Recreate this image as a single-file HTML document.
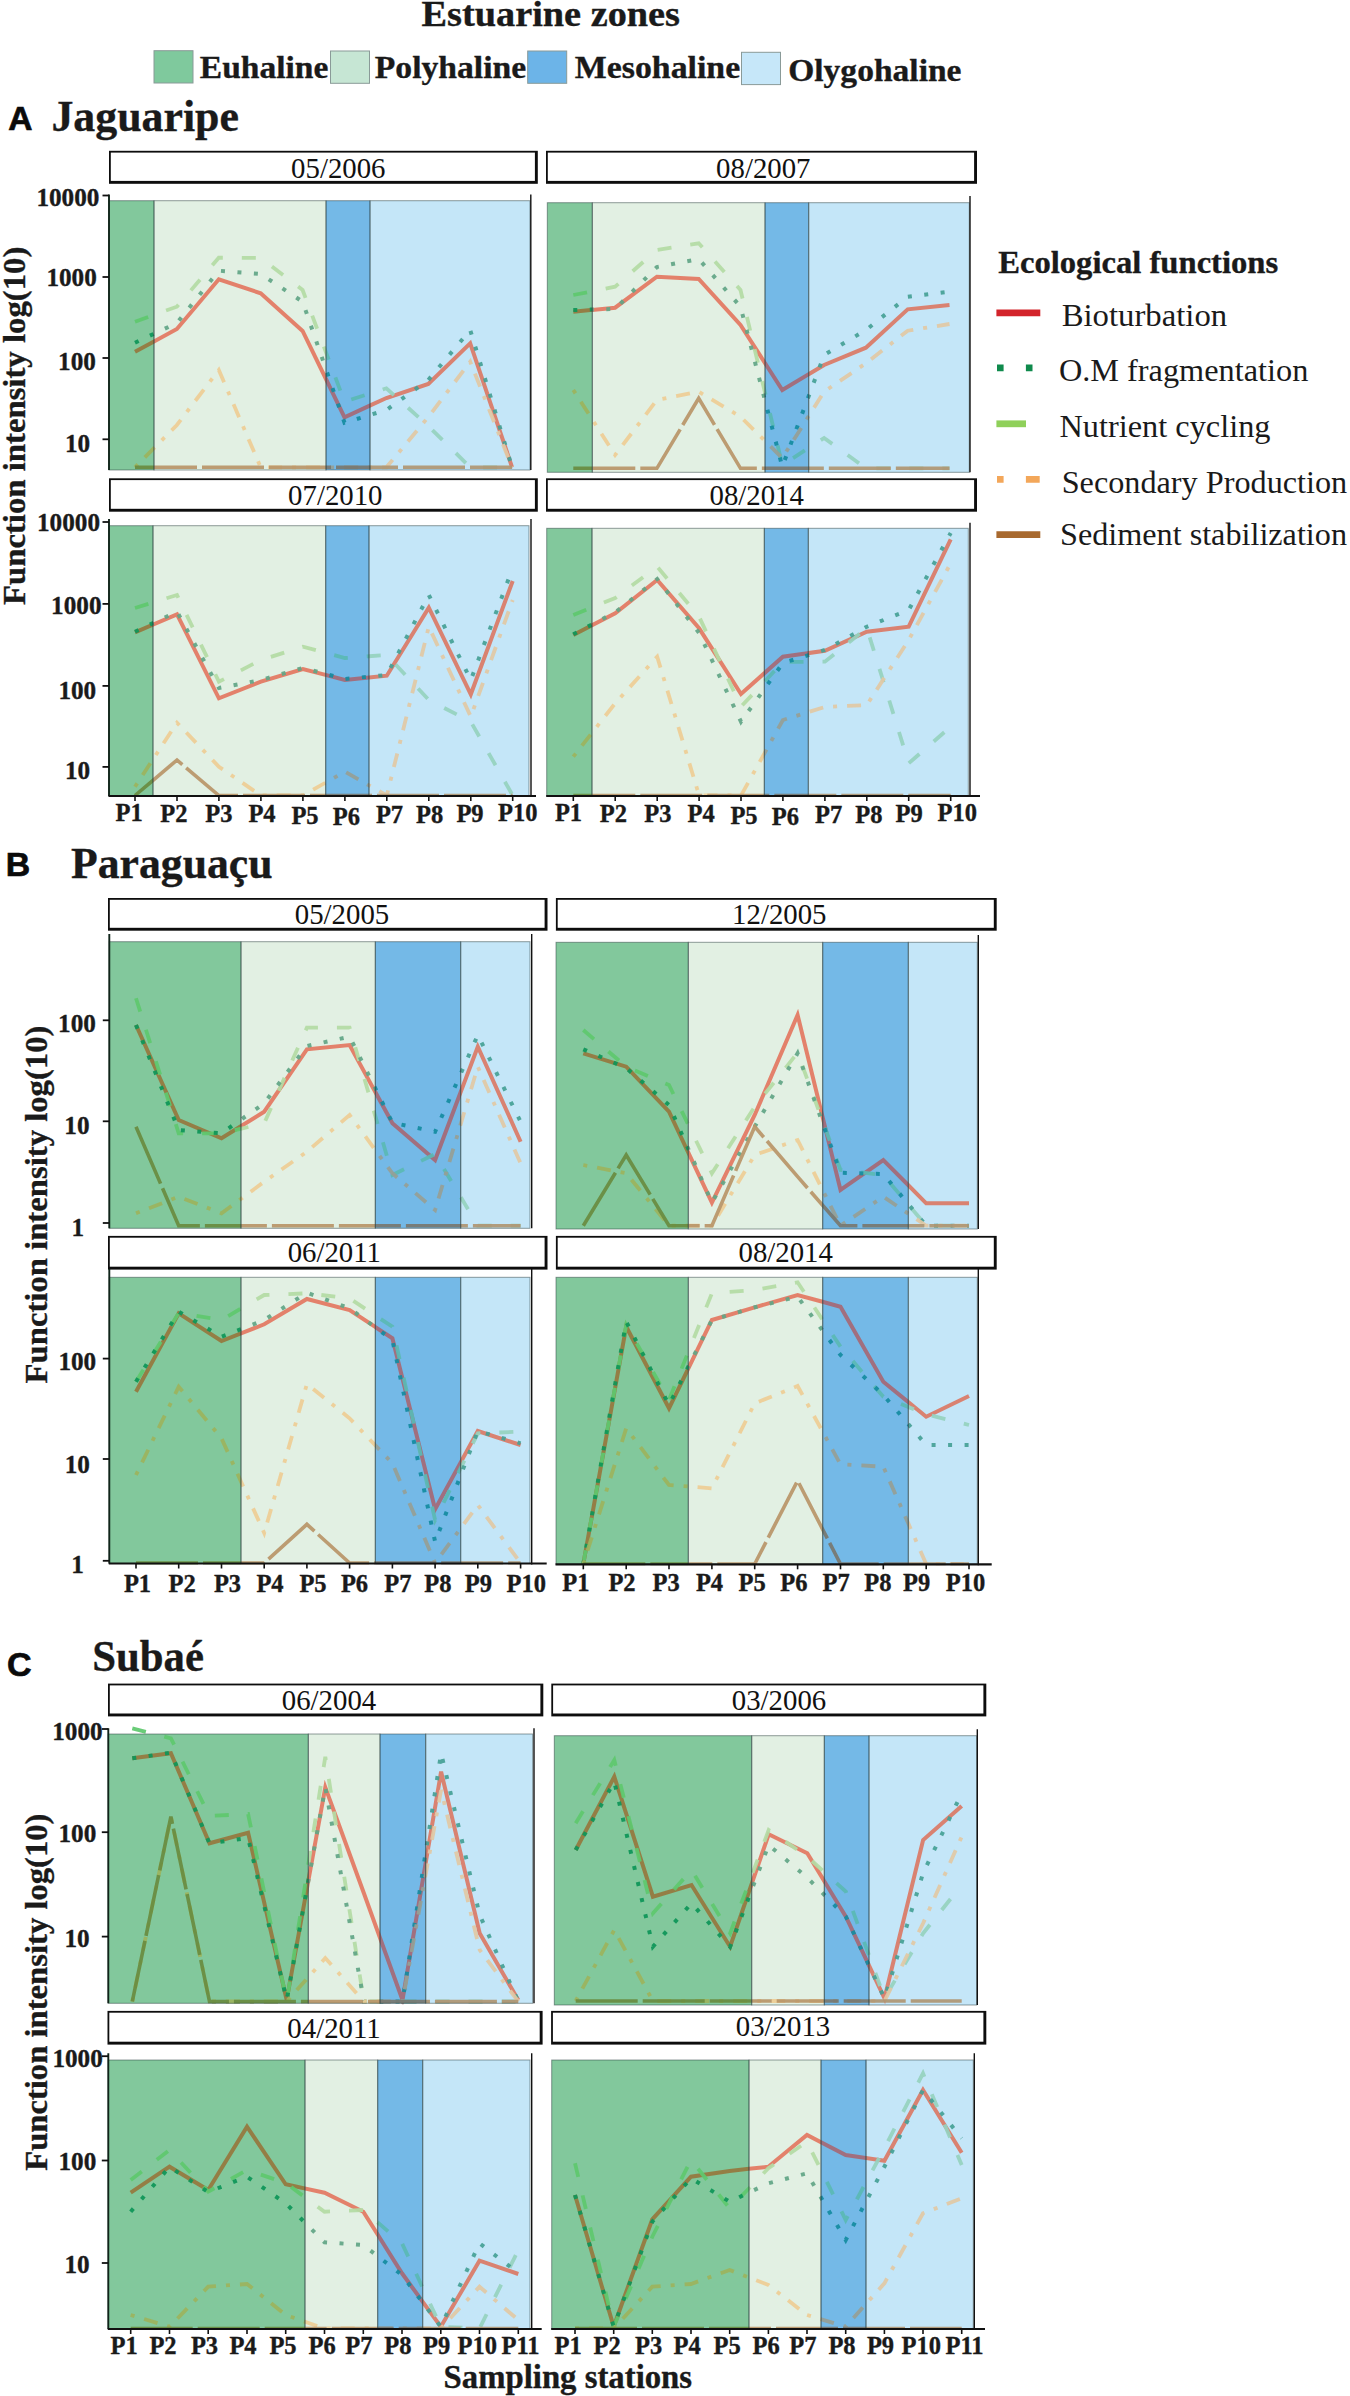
<!DOCTYPE html>
<html><head><meta charset="utf-8"><title>Estuarine zones – ecological functions</title>
<style>html,body{margin:0;padding:0;background:#fff}svg{display:block}</style></head>
<body>
<svg width="1350" height="2396" viewBox="0 0 1350 2396">
<rect width="1350" height="2396" fill="#fff"/>
<text x="421.5" y="25.9" font-size="35.5" font-family='"Liberation Serif", serif' fill="#1a1a1a" font-weight="bold" textLength="258.5" lengthAdjust="spacingAndGlyphs" stroke="#1a1a1a" stroke-width="0.35">Estuarine zones</text>
<rect x="154" y="50.7" width="39" height="32.3" fill="#7fc99d" stroke="#8a9a98" stroke-width="1"/>
<text x="199.8" y="78.2" font-size="32" font-family='"Liberation Serif", serif' fill="#1a1a1a" font-weight="bold" textLength="128.6" lengthAdjust="spacingAndGlyphs" stroke="#1a1a1a" stroke-width="0.35">Euhaline</text>
<rect x="330.5" y="51" width="39" height="32.3" fill="#c6e6d4" stroke="#8a9a98" stroke-width="1"/>
<text x="374.8" y="78.2" font-size="32" font-family='"Liberation Serif", serif' fill="#1a1a1a" font-weight="bold" textLength="151.4" lengthAdjust="spacingAndGlyphs" stroke="#1a1a1a" stroke-width="0.35">Polyhaline</text>
<rect x="527.7" y="51" width="39" height="32.3" fill="#6cb4e8" stroke="#8a9a98" stroke-width="1"/>
<text x="574.8" y="77.5" font-size="32" font-family='"Liberation Serif", serif' fill="#1a1a1a" font-weight="bold" textLength="165.4" lengthAdjust="spacingAndGlyphs" stroke="#1a1a1a" stroke-width="0.35">Mesohaline</text>
<rect x="741.5" y="52.3" width="39" height="32.3" fill="#c6e7f9" stroke="#8a9a98" stroke-width="1"/>
<text x="788.2" y="81.0" font-size="32" font-family='"Liberation Serif", serif' fill="#1a1a1a" font-weight="bold" textLength="173.3" lengthAdjust="spacingAndGlyphs" stroke="#1a1a1a" stroke-width="0.35">Olygohaline</text>
<text x="8.2" y="129.6" font-size="33.5" font-family='"Liberation Sans", sans-serif' fill="#0a0a0a" font-weight="bold" stroke="#0a0a0a" stroke-width="0.7">A</text>
<text x="51.4" y="131.0" font-size="43.5" font-family='"Liberation Serif", serif' fill="#1a1a1a" font-weight="bold" textLength="187.5" lengthAdjust="spacingAndGlyphs" stroke="#1a1a1a" stroke-width="0.35">Jaguaripe</text>
<text x="5.8" y="876.2" font-size="33.8" font-family='"Liberation Sans", sans-serif' fill="#0a0a0a" font-weight="bold" stroke="#0a0a0a" stroke-width="0.7">B</text>
<text x="71.0" y="877.8" font-size="43.5" font-family='"Liberation Serif", serif' fill="#1a1a1a" font-weight="bold" textLength="201.5" lengthAdjust="spacingAndGlyphs" stroke="#1a1a1a" stroke-width="0.35">Paraguaçu</text>
<text x="7.0" y="1676.0" font-size="34" font-family='"Liberation Sans", sans-serif' fill="#0a0a0a" font-weight="bold" stroke="#0a0a0a" stroke-width="0.7">C</text>
<text x="92.2" y="1671.2" font-size="43.5" font-family='"Liberation Serif", serif' fill="#1a1a1a" font-weight="bold" textLength="111.8" lengthAdjust="spacingAndGlyphs" stroke="#1a1a1a" stroke-width="0.35">Subaé</text>
<rect x="109.0" y="150.8" width="428.8" height="33.0" fill="#0d0d0d"/>
<rect x="110.8" y="152.6" width="424.1" height="28.3" fill="#fff"/>
<text x="338.3" y="177.6" font-size="28.8" font-family='"Liberation Serif", serif' fill="#111" text-anchor="middle">05/2006</text>
<rect x="546.0" y="150.8" width="431.0" height="33.0" fill="#0d0d0d"/>
<rect x="547.8" y="152.6" width="426.3" height="28.3" fill="#fff"/>
<text x="763.3" y="177.6" font-size="28.8" font-family='"Liberation Serif", serif' fill="#111" text-anchor="middle">08/2007</text>
<rect x="109.0" y="478.3" width="428.8" height="33.4" fill="#0d0d0d"/>
<rect x="110.8" y="480.1" width="424.1" height="28.7" fill="#fff"/>
<text x="335.3" y="505.0" font-size="28.8" font-family='"Liberation Serif", serif' fill="#111" text-anchor="middle">07/2010</text>
<rect x="546.0" y="478.3" width="431.0" height="33.4" fill="#0d0d0d"/>
<rect x="547.8" y="480.1" width="426.3" height="28.7" fill="#fff"/>
<text x="756.7" y="505.0" font-size="28.8" font-family='"Liberation Serif", serif' fill="#111" text-anchor="middle">08/2014</text>
<rect x="108.0" y="898.0" width="439.5" height="32.7" fill="#0d0d0d"/>
<rect x="109.8" y="899.8" width="434.8" height="28.0" fill="#fff"/>
<text x="342.0" y="924.0" font-size="28.8" font-family='"Liberation Serif", serif' fill="#111" text-anchor="middle">05/2005</text>
<rect x="555.9" y="898.0" width="440.8" height="32.7" fill="#0d0d0d"/>
<rect x="557.7" y="899.8" width="436.1" height="28.0" fill="#fff"/>
<text x="779.3" y="924.0" font-size="28.8" font-family='"Liberation Serif", serif' fill="#111" text-anchor="middle">12/2005</text>
<rect x="108.0" y="1235.9" width="439.5" height="33.7" fill="#0d0d0d"/>
<rect x="109.8" y="1237.7" width="434.8" height="29.0" fill="#fff"/>
<text x="334.3" y="1262.3" font-size="28.8" font-family='"Liberation Serif", serif' fill="#111" text-anchor="middle">06/2011</text>
<rect x="555.9" y="1235.9" width="440.8" height="33.7" fill="#0d0d0d"/>
<rect x="557.7" y="1237.7" width="436.1" height="29.0" fill="#fff"/>
<text x="785.7" y="1262.3" font-size="28.8" font-family='"Liberation Serif", serif' fill="#111" text-anchor="middle">08/2014</text>
<rect x="108.0" y="1683.6" width="435.3" height="32.8" fill="#0d0d0d"/>
<rect x="109.8" y="1685.4" width="430.6" height="28.1" fill="#fff"/>
<text x="329.0" y="1709.7" font-size="28.8" font-family='"Liberation Serif", serif' fill="#111" text-anchor="middle">06/2004</text>
<rect x="551.3" y="1683.6" width="435.0" height="32.8" fill="#0d0d0d"/>
<rect x="553.1" y="1685.4" width="430.3" height="28.1" fill="#fff"/>
<text x="779.0" y="1709.7" font-size="28.8" font-family='"Liberation Serif", serif' fill="#111" text-anchor="middle">03/2006</text>
<rect x="107.5" y="2010.9" width="435.1" height="33.7" fill="#0d0d0d"/>
<rect x="109.3" y="2012.7" width="430.4" height="29.0" fill="#fff"/>
<text x="334.0" y="2038.0" font-size="28.8" font-family='"Liberation Serif", serif' fill="#111" text-anchor="middle">04/2011</text>
<rect x="551.1" y="2010.9" width="435.2" height="33.7" fill="#0d0d0d"/>
<rect x="552.9" y="2012.7" width="430.5" height="29.0" fill="#fff"/>
<text x="783.0" y="2036.0" font-size="28.8" font-family='"Liberation Serif", serif' fill="#111" text-anchor="middle">03/2013</text>
<rect x="109.0" y="200.7" width="45.0" height="269.3" fill="#82c89c"/>
<rect x="154.0" y="200.7" width="172.0" height="269.3" fill="#e2f0e3"/>
<rect x="326.0" y="200.7" width="44.0" height="269.3" fill="#74b9e7"/>
<rect x="370.0" y="200.7" width="160.0" height="269.3" fill="#c4e6f8"/>
<defs>
<clipPath id="c1_0"><rect x="109.0" y="190.7" width="45.0" height="280.3"/></clipPath>
<clipPath id="c1_1"><rect x="154.0" y="190.7" width="172.0" height="280.3"/></clipPath>
<clipPath id="c1_2"><rect x="326.0" y="190.7" width="44.0" height="280.3"/></clipPath>
<clipPath id="c1_3"><rect x="370.0" y="190.7" width="160.0" height="280.3"/></clipPath>
<polyline id="l1bio" points="135.0,351.7 176.9,329.0 218.8,279.3 260.7,293.3 302.6,331.0 344.5,417.3 386.4,398.0 428.3,384.0 470.2,343.3 512.1,467.3" fill="none" stroke-width="4" stroke-linejoin="miter"/>
<polyline id="l1nut" points="135.0,321.7 176.9,306.7 218.8,257.7 260.7,258.0 302.6,290.0 344.5,401.7 386.4,388.3 428.3,426.0 470.2,467.3 512.1,467.3" fill="none" stroke-width="3.8" stroke-linejoin="miter" stroke-dasharray="14 19"/>
<polyline id="l1om" points="135.0,342.7 176.9,323.0 218.8,270.7 260.7,274.0 302.6,301.7 344.5,422.7 386.4,410.0 428.3,380.0 470.2,330.0 512.1,467.3" fill="none" stroke-width="4" stroke-linejoin="miter" stroke-dasharray="4 12.5"/>
<polyline id="l1sec" points="135.0,467.3 176.9,425.0 218.8,370.0 260.7,467.3 302.6,467.3 344.5,467.3 386.4,467.3 428.3,417.0 470.2,361.7 512.1,467.3" fill="none" stroke-width="3.8" stroke-linejoin="miter" stroke-dasharray="4 10 14 10"/>
<polyline id="l1sed" points="135.0,467.3 176.9,467.3 218.8,467.3 260.7,467.3 302.6,467.3 344.5,467.3 386.4,467.3 428.3,467.3 470.2,467.3 512.1,467.3" fill="none" stroke-width="3.6" stroke-linejoin="miter" stroke-dasharray="62 5"/>
</defs>
<g clip-path="url(#c1_0)" stroke-opacity="0.93">
<use href="#l1bio" stroke="#96783e"/>
<use href="#l1nut" stroke="#5fc86e"/>
<use href="#l1om" stroke="#0e9658"/>
<use href="#l1sec" stroke="#9cb45e"/>
<use href="#l1sed" stroke="#698c41"/>
</g>
<g clip-path="url(#c1_1)" stroke-opacity="0.93">
<use href="#l1bio" stroke="#e37962"/>
<use href="#l1nut" stroke="#b4dca5"/>
<use href="#l1om" stroke="#62a686"/>
<use href="#l1sec" stroke="#eecd96"/>
<use href="#l1sed" stroke="#b99669"/>
</g>
<g clip-path="url(#c1_2)" stroke-opacity="0.93">
<use href="#l1bio" stroke="#a56976"/>
<use href="#l1nut" stroke="#5ab9b4"/>
<use href="#l1om" stroke="#148ca0"/>
<use href="#l1sec" stroke="#969f96"/>
<use href="#l1sed" stroke="#787870"/>
</g>
<g clip-path="url(#c1_3)" stroke-opacity="0.93">
<use href="#l1bio" stroke="#da7a66"/>
<use href="#l1nut" stroke="#96d2be"/>
<use href="#l1om" stroke="#46a096"/>
<use href="#l1sec" stroke="#e1c8a5"/>
<use href="#l1sed" stroke="#af9673"/>
</g>
<rect x="109.0" y="200.7" width="45.0" height="269.3" fill="none" stroke="#283c3c" stroke-opacity="0.5" stroke-width="1"/>
<rect x="154.0" y="200.7" width="172.0" height="269.3" fill="none" stroke="#283c3c" stroke-opacity="0.5" stroke-width="1"/>
<rect x="326.0" y="200.7" width="44.0" height="269.3" fill="none" stroke="#283c3c" stroke-opacity="0.5" stroke-width="1"/>
<rect x="370.0" y="200.7" width="160.0" height="269.3" fill="none" stroke="#283c3c" stroke-opacity="0.5" stroke-width="1"/>
<line x1="530.8" y1="194.5" x2="530.8" y2="470.0" stroke="#111" stroke-width="1.4"/>
<line x1="109.0" y1="194.5" x2="109.0" y2="470.0" stroke="#10241a" stroke-width="1.9"/>
<line x1="102.5" y1="195.5" x2="109.0" y2="195.5" stroke="#111" stroke-width="1.8"/>
<text x="67.9" y="205.7" font-size="25.2" font-family='"Liberation Serif", serif' fill="#1a1a1a" font-weight="bold" text-anchor="middle" stroke="#1a1a1a" stroke-width="0.35">10000</text>
<line x1="102.5" y1="277.0" x2="109.0" y2="277.0" stroke="#111" stroke-width="1.8"/>
<text x="71.6" y="286.4" font-size="25.2" font-family='"Liberation Serif", serif' fill="#1a1a1a" font-weight="bold" text-anchor="middle" stroke="#1a1a1a" stroke-width="0.35">1000</text>
<line x1="102.5" y1="358.0" x2="109.0" y2="358.0" stroke="#111" stroke-width="1.8"/>
<text x="77.0" y="369.7" font-size="25.2" font-family='"Liberation Serif", serif' fill="#1a1a1a" font-weight="bold" text-anchor="middle" stroke="#1a1a1a" stroke-width="0.35">100</text>
<line x1="102.5" y1="439.3" x2="109.0" y2="439.3" stroke="#111" stroke-width="1.8"/>
<text x="77.6" y="452.3" font-size="25.2" font-family='"Liberation Serif", serif' fill="#1a1a1a" font-weight="bold" text-anchor="middle" stroke="#1a1a1a" stroke-width="0.35">10</text>
<rect x="547.3" y="202.7" width="45.0" height="269.6" fill="#82c89c"/>
<rect x="592.3" y="202.7" width="172.7" height="269.6" fill="#e2f0e3"/>
<rect x="765.0" y="202.7" width="43.7" height="269.6" fill="#74b9e7"/>
<rect x="808.7" y="202.7" width="160.6" height="269.6" fill="#c4e6f8"/>
<defs>
<clipPath id="c2_0"><rect x="547.3" y="192.7" width="45.0" height="280.6"/></clipPath>
<clipPath id="c2_1"><rect x="592.3" y="192.7" width="172.7" height="280.6"/></clipPath>
<clipPath id="c2_2"><rect x="765.0" y="192.7" width="43.7" height="280.6"/></clipPath>
<clipPath id="c2_3"><rect x="808.7" y="192.7" width="160.6" height="280.6"/></clipPath>
<polyline id="l2bio" points="573.3,311.7 615.1,307.7 656.9,276.7 698.7,279.0 740.5,325.0 782.3,390.0 824.1,365.0 865.9,347.7 907.7,309.3 949.5,305.0" fill="none" stroke-width="4" stroke-linejoin="miter"/>
<polyline id="l2nut" points="573.3,295.0 615.1,286.7 656.9,250.0 698.7,243.3 740.5,290.0 782.3,465.0 824.1,438.0 865.9,468.3 907.7,468.3 949.5,468.3" fill="none" stroke-width="3.8" stroke-linejoin="miter" stroke-dasharray="14 19"/>
<polyline id="l2om" points="573.3,310.0 615.1,309.0 656.9,267.0 698.7,259.0 740.5,306.7 782.3,466.7 824.1,355.0 865.9,330.0 907.7,296.7 949.5,291.7" fill="none" stroke-width="4" stroke-linejoin="miter" stroke-dasharray="4 12.5"/>
<polyline id="l2sec" points="573.3,390.0 615.1,455.0 656.9,400.0 698.7,391.7 740.5,416.7 782.3,458.0 824.1,391.7 865.9,363.3 907.7,330.7 949.5,324.0" fill="none" stroke-width="3.8" stroke-linejoin="miter" stroke-dasharray="4 10 14 10"/>
<polyline id="l2sed" points="573.3,468.3 615.1,468.3 656.9,468.3 698.7,398.3 740.5,468.3 782.3,468.3 824.1,468.3 865.9,468.3 907.7,468.3 949.5,468.3" fill="none" stroke-width="3.6" stroke-linejoin="miter" stroke-dasharray="62 5"/>
</defs>
<g clip-path="url(#c2_0)" stroke-opacity="0.93">
<use href="#l2bio" stroke="#96783e"/>
<use href="#l2nut" stroke="#5fc86e"/>
<use href="#l2om" stroke="#0e9658"/>
<use href="#l2sec" stroke="#9cb45e"/>
<use href="#l2sed" stroke="#698c41"/>
</g>
<g clip-path="url(#c2_1)" stroke-opacity="0.93">
<use href="#l2bio" stroke="#e37962"/>
<use href="#l2nut" stroke="#b4dca5"/>
<use href="#l2om" stroke="#62a686"/>
<use href="#l2sec" stroke="#eecd96"/>
<use href="#l2sed" stroke="#b99669"/>
</g>
<g clip-path="url(#c2_2)" stroke-opacity="0.93">
<use href="#l2bio" stroke="#a56976"/>
<use href="#l2nut" stroke="#5ab9b4"/>
<use href="#l2om" stroke="#148ca0"/>
<use href="#l2sec" stroke="#969f96"/>
<use href="#l2sed" stroke="#787870"/>
</g>
<g clip-path="url(#c2_3)" stroke-opacity="0.93">
<use href="#l2bio" stroke="#da7a66"/>
<use href="#l2nut" stroke="#96d2be"/>
<use href="#l2om" stroke="#46a096"/>
<use href="#l2sec" stroke="#e1c8a5"/>
<use href="#l2sed" stroke="#af9673"/>
</g>
<rect x="547.3" y="202.7" width="45.0" height="269.6" fill="none" stroke="#283c3c" stroke-opacity="0.5" stroke-width="1"/>
<rect x="592.3" y="202.7" width="172.7" height="269.6" fill="none" stroke="#283c3c" stroke-opacity="0.5" stroke-width="1"/>
<rect x="765.0" y="202.7" width="43.7" height="269.6" fill="none" stroke="#283c3c" stroke-opacity="0.5" stroke-width="1"/>
<rect x="808.7" y="202.7" width="160.6" height="269.6" fill="none" stroke="#283c3c" stroke-opacity="0.5" stroke-width="1"/>
<line x1="970.0" y1="196.0" x2="970.0" y2="472.3" stroke="#111" stroke-width="1.4"/>
<rect x="109.0" y="525.7" width="44.0" height="270.3" fill="#82c89c"/>
<rect x="153.0" y="525.7" width="172.7" height="270.3" fill="#e2f0e3"/>
<rect x="325.7" y="525.7" width="43.3" height="270.3" fill="#74b9e7"/>
<rect x="369.0" y="525.7" width="160.0" height="270.3" fill="#c4e6f8"/>
<defs>
<clipPath id="c3_0"><rect x="109.0" y="515.7" width="44.0" height="281.3"/></clipPath>
<clipPath id="c3_1"><rect x="153.0" y="515.7" width="172.7" height="281.3"/></clipPath>
<clipPath id="c3_2"><rect x="325.7" y="515.7" width="43.3" height="281.3"/></clipPath>
<clipPath id="c3_3"><rect x="369.0" y="515.7" width="160.0" height="281.3"/></clipPath>
<polyline id="l3bio" points="135.0,632.3 177.0,614.3 218.9,698.3 260.9,681.7 302.9,669.0 344.9,680.0 386.8,675.7 428.8,607.7 470.8,694.3 512.7,581.0" fill="none" stroke-width="4" stroke-linejoin="miter"/>
<polyline id="l3nut" points="135.0,608.0 177.0,595.0 218.9,681.7 260.9,660.0 302.9,646.7 344.9,658.0 386.8,655.0 428.8,700.0 470.8,721.7 512.7,795.5" fill="none" stroke-width="3.8" stroke-linejoin="miter" stroke-dasharray="14 19"/>
<polyline id="l3om" points="135.0,631.7 177.0,611.7 218.9,688.0 260.9,680.0 302.9,668.0 344.9,679.0 386.8,675.0 428.8,595.0 470.8,680.0 512.7,568.0" fill="none" stroke-width="4" stroke-linejoin="miter" stroke-dasharray="4 12.5"/>
<polyline id="l3sec" points="135.0,786.7 177.0,722.7 218.9,766.7 260.9,795.5 302.9,795.5 344.9,771.7 386.8,795.5 428.8,626.7 470.8,716.7 512.7,600.0" fill="none" stroke-width="3.8" stroke-linejoin="miter" stroke-dasharray="4 10 14 10"/>
<polyline id="l3sed" points="135.0,795.5 177.0,760.0 218.9,795.5 260.9,795.5 302.9,795.5 344.9,795.5 386.8,795.5 428.8,795.5 470.8,795.5 512.7,795.5" fill="none" stroke-width="3.6" stroke-linejoin="miter" stroke-dasharray="62 5"/>
</defs>
<g clip-path="url(#c3_0)" stroke-opacity="0.93">
<use href="#l3bio" stroke="#96783e"/>
<use href="#l3nut" stroke="#5fc86e"/>
<use href="#l3om" stroke="#0e9658"/>
<use href="#l3sec" stroke="#9cb45e"/>
<use href="#l3sed" stroke="#698c41"/>
</g>
<g clip-path="url(#c3_1)" stroke-opacity="0.93">
<use href="#l3bio" stroke="#e37962"/>
<use href="#l3nut" stroke="#b4dca5"/>
<use href="#l3om" stroke="#62a686"/>
<use href="#l3sec" stroke="#eecd96"/>
<use href="#l3sed" stroke="#b99669"/>
</g>
<g clip-path="url(#c3_2)" stroke-opacity="0.93">
<use href="#l3bio" stroke="#a56976"/>
<use href="#l3nut" stroke="#5ab9b4"/>
<use href="#l3om" stroke="#148ca0"/>
<use href="#l3sec" stroke="#969f96"/>
<use href="#l3sed" stroke="#787870"/>
</g>
<g clip-path="url(#c3_3)" stroke-opacity="0.93">
<use href="#l3bio" stroke="#da7a66"/>
<use href="#l3nut" stroke="#96d2be"/>
<use href="#l3om" stroke="#46a096"/>
<use href="#l3sec" stroke="#e1c8a5"/>
<use href="#l3sed" stroke="#af9673"/>
</g>
<rect x="109.0" y="525.7" width="44.0" height="270.3" fill="none" stroke="#283c3c" stroke-opacity="0.5" stroke-width="1"/>
<rect x="153.0" y="525.7" width="172.7" height="270.3" fill="none" stroke="#283c3c" stroke-opacity="0.5" stroke-width="1"/>
<rect x="325.7" y="525.7" width="43.3" height="270.3" fill="none" stroke="#283c3c" stroke-opacity="0.5" stroke-width="1"/>
<rect x="369.0" y="525.7" width="160.0" height="270.3" fill="none" stroke="#283c3c" stroke-opacity="0.5" stroke-width="1"/>
<line x1="531.0" y1="519.0" x2="531.0" y2="797.0" stroke="#111" stroke-width="1.4"/>
<line x1="109.0" y1="519.0" x2="109.0" y2="796.0" stroke="#10241a" stroke-width="1.9"/>
<line x1="102.5" y1="522.0" x2="109.0" y2="522.0" stroke="#111" stroke-width="1.8"/>
<text x="68.5" y="531.3" font-size="25.2" font-family='"Liberation Serif", serif' fill="#1a1a1a" font-weight="bold" text-anchor="middle" stroke="#1a1a1a" stroke-width="0.35">10000</text>
<line x1="102.5" y1="603.9" x2="109.0" y2="603.9" stroke="#111" stroke-width="1.8"/>
<text x="76.3" y="613.9" font-size="25.2" font-family='"Liberation Serif", serif' fill="#1a1a1a" font-weight="bold" text-anchor="middle" stroke="#1a1a1a" stroke-width="0.35">1000</text>
<line x1="102.5" y1="685.9" x2="109.0" y2="685.9" stroke="#111" stroke-width="1.8"/>
<text x="77.3" y="699.1" font-size="25.2" font-family='"Liberation Serif", serif' fill="#1a1a1a" font-weight="bold" text-anchor="middle" stroke="#1a1a1a" stroke-width="0.35">100</text>
<line x1="102.5" y1="766.9" x2="109.0" y2="766.9" stroke="#111" stroke-width="1.8"/>
<text x="77.6" y="779.2" font-size="25.2" font-family='"Liberation Serif", serif' fill="#1a1a1a" font-weight="bold" text-anchor="middle" stroke="#1a1a1a" stroke-width="0.35">10</text>
<line x1="108.5" y1="796.0" x2="536.0" y2="796.0" stroke="#111" stroke-width="2.2"/>
<line x1="135.0" y1="796.0" x2="135.0" y2="801.0" stroke="#111" stroke-width="1.6"/>
<line x1="177.0" y1="796.0" x2="177.0" y2="801.0" stroke="#111" stroke-width="1.6"/>
<line x1="218.9" y1="796.0" x2="218.9" y2="801.0" stroke="#111" stroke-width="1.6"/>
<line x1="260.9" y1="796.0" x2="260.9" y2="801.0" stroke="#111" stroke-width="1.6"/>
<line x1="302.9" y1="796.0" x2="302.9" y2="801.0" stroke="#111" stroke-width="1.6"/>
<line x1="344.9" y1="796.0" x2="344.9" y2="801.0" stroke="#111" stroke-width="1.6"/>
<line x1="386.8" y1="796.0" x2="386.8" y2="801.0" stroke="#111" stroke-width="1.6"/>
<line x1="428.8" y1="796.0" x2="428.8" y2="801.0" stroke="#111" stroke-width="1.6"/>
<line x1="470.8" y1="796.0" x2="470.8" y2="801.0" stroke="#111" stroke-width="1.6"/>
<line x1="512.7" y1="796.0" x2="512.7" y2="801.0" stroke="#111" stroke-width="1.6"/>
<text x="129.2" y="821.0" font-size="24.5" font-family='"Liberation Serif", serif' fill="#1a1a1a" font-weight="bold" text-anchor="middle" stroke="#1a1a1a" stroke-width="0.35">P1</text>
<text x="173.8" y="822.3" font-size="24.5" font-family='"Liberation Serif", serif' fill="#1a1a1a" font-weight="bold" text-anchor="middle" stroke="#1a1a1a" stroke-width="0.35">P2</text>
<text x="218.8" y="821.7" font-size="24.5" font-family='"Liberation Serif", serif' fill="#1a1a1a" font-weight="bold" text-anchor="middle" stroke="#1a1a1a" stroke-width="0.35">P3</text>
<text x="262.0" y="821.7" font-size="24.5" font-family='"Liberation Serif", serif' fill="#1a1a1a" font-weight="bold" text-anchor="middle" stroke="#1a1a1a" stroke-width="0.35">P4</text>
<text x="305.0" y="824.3" font-size="24.5" font-family='"Liberation Serif", serif' fill="#1a1a1a" font-weight="bold" text-anchor="middle" stroke="#1a1a1a" stroke-width="0.35">P5</text>
<text x="346.3" y="825.0" font-size="24.5" font-family='"Liberation Serif", serif' fill="#1a1a1a" font-weight="bold" text-anchor="middle" stroke="#1a1a1a" stroke-width="0.35">P6</text>
<text x="389.5" y="823.3" font-size="24.5" font-family='"Liberation Serif", serif' fill="#1a1a1a" font-weight="bold" text-anchor="middle" stroke="#1a1a1a" stroke-width="0.35">P7</text>
<text x="429.7" y="823.3" font-size="24.5" font-family='"Liberation Serif", serif' fill="#1a1a1a" font-weight="bold" text-anchor="middle" stroke="#1a1a1a" stroke-width="0.35">P8</text>
<text x="470.0" y="822.3" font-size="24.5" font-family='"Liberation Serif", serif' fill="#1a1a1a" font-weight="bold" text-anchor="middle" stroke="#1a1a1a" stroke-width="0.35">P9</text>
<text x="517.8" y="821.0" font-size="24.5" font-family='"Liberation Serif", serif' fill="#1a1a1a" font-weight="bold" text-anchor="middle" stroke="#1a1a1a" stroke-width="0.35">P10</text>
<rect x="546.7" y="528.3" width="45.3" height="267.7" fill="#82c89c"/>
<rect x="592.0" y="528.3" width="172.3" height="267.7" fill="#e2f0e3"/>
<rect x="764.3" y="528.3" width="44.0" height="267.7" fill="#74b9e7"/>
<rect x="808.3" y="528.3" width="160.0" height="267.7" fill="#c4e6f8"/>
<defs>
<clipPath id="c4_0"><rect x="546.7" y="518.3" width="45.3" height="278.7"/></clipPath>
<clipPath id="c4_1"><rect x="592.0" y="518.3" width="172.3" height="278.7"/></clipPath>
<clipPath id="c4_2"><rect x="764.3" y="518.3" width="44.0" height="278.7"/></clipPath>
<clipPath id="c4_3"><rect x="808.3" y="518.3" width="160.0" height="278.7"/></clipPath>
<polyline id="l4bio" points="573.3,635.0 615.2,613.3 657.2,580.0 699.1,628.3 741.0,694.0 782.9,656.7 824.9,650.7 866.8,631.7 908.7,626.7 950.7,539.3" fill="none" stroke-width="4" stroke-linejoin="miter"/>
<polyline id="l4nut" points="573.3,615.0 615.2,598.0 657.2,566.7 699.1,616.7 741.0,706.7 782.9,662.0 824.9,661.7 866.8,628.0 908.7,763.3 950.7,726.7" fill="none" stroke-width="3.8" stroke-linejoin="miter" stroke-dasharray="14 19"/>
<polyline id="l4om" points="573.3,634.3 615.2,612.3 657.2,579.0 699.1,633.0 741.0,721.7 782.9,663.0 824.9,650.0 866.8,626.7 908.7,610.0 950.7,533.0" fill="none" stroke-width="4" stroke-linejoin="miter" stroke-dasharray="4 12.5"/>
<polyline id="l4sec" points="573.3,756.7 615.2,703.3 657.2,656.7 699.1,795.5 741.0,795.5 782.9,720.0 824.9,707.0 866.8,705.0 908.7,640.0 950.7,563.3" fill="none" stroke-width="3.8" stroke-linejoin="miter" stroke-dasharray="4 10 14 10"/>
<polyline id="l4sed" points="573.3,795.5 615.2,795.5 657.2,795.5 699.1,795.5 741.0,795.5 782.9,795.5 824.9,795.5 866.8,795.5 908.7,795.5 950.7,795.5" fill="none" stroke-width="3.6" stroke-linejoin="miter" stroke-dasharray="62 5"/>
</defs>
<g clip-path="url(#c4_0)" stroke-opacity="0.93">
<use href="#l4bio" stroke="#96783e"/>
<use href="#l4nut" stroke="#5fc86e"/>
<use href="#l4om" stroke="#0e9658"/>
<use href="#l4sec" stroke="#9cb45e"/>
<use href="#l4sed" stroke="#698c41"/>
</g>
<g clip-path="url(#c4_1)" stroke-opacity="0.93">
<use href="#l4bio" stroke="#e37962"/>
<use href="#l4nut" stroke="#b4dca5"/>
<use href="#l4om" stroke="#62a686"/>
<use href="#l4sec" stroke="#eecd96"/>
<use href="#l4sed" stroke="#b99669"/>
</g>
<g clip-path="url(#c4_2)" stroke-opacity="0.93">
<use href="#l4bio" stroke="#a56976"/>
<use href="#l4nut" stroke="#5ab9b4"/>
<use href="#l4om" stroke="#148ca0"/>
<use href="#l4sec" stroke="#969f96"/>
<use href="#l4sed" stroke="#787870"/>
</g>
<g clip-path="url(#c4_3)" stroke-opacity="0.93">
<use href="#l4bio" stroke="#da7a66"/>
<use href="#l4nut" stroke="#96d2be"/>
<use href="#l4om" stroke="#46a096"/>
<use href="#l4sec" stroke="#e1c8a5"/>
<use href="#l4sed" stroke="#af9673"/>
</g>
<rect x="546.7" y="528.3" width="45.3" height="267.7" fill="none" stroke="#283c3c" stroke-opacity="0.5" stroke-width="1"/>
<rect x="592.0" y="528.3" width="172.3" height="267.7" fill="none" stroke="#283c3c" stroke-opacity="0.5" stroke-width="1"/>
<rect x="764.3" y="528.3" width="44.0" height="267.7" fill="none" stroke="#283c3c" stroke-opacity="0.5" stroke-width="1"/>
<rect x="808.3" y="528.3" width="160.0" height="267.7" fill="none" stroke="#283c3c" stroke-opacity="0.5" stroke-width="1"/>
<line x1="970.0" y1="522.7" x2="970.0" y2="797.0" stroke="#111" stroke-width="1.4"/>
<line x1="546.2" y1="796.0" x2="980.0" y2="796.0" stroke="#111" stroke-width="2.2"/>
<line x1="573.3" y1="796.0" x2="573.3" y2="801.0" stroke="#111" stroke-width="1.6"/>
<line x1="615.2" y1="796.0" x2="615.2" y2="801.0" stroke="#111" stroke-width="1.6"/>
<line x1="657.2" y1="796.0" x2="657.2" y2="801.0" stroke="#111" stroke-width="1.6"/>
<line x1="699.1" y1="796.0" x2="699.1" y2="801.0" stroke="#111" stroke-width="1.6"/>
<line x1="741.0" y1="796.0" x2="741.0" y2="801.0" stroke="#111" stroke-width="1.6"/>
<line x1="782.9" y1="796.0" x2="782.9" y2="801.0" stroke="#111" stroke-width="1.6"/>
<line x1="824.9" y1="796.0" x2="824.9" y2="801.0" stroke="#111" stroke-width="1.6"/>
<line x1="866.8" y1="796.0" x2="866.8" y2="801.0" stroke="#111" stroke-width="1.6"/>
<line x1="908.7" y1="796.0" x2="908.7" y2="801.0" stroke="#111" stroke-width="1.6"/>
<line x1="950.7" y1="796.0" x2="950.7" y2="801.0" stroke="#111" stroke-width="1.6"/>
<text x="568.5" y="821.0" font-size="24.5" font-family='"Liberation Serif", serif' fill="#1a1a1a" font-weight="bold" text-anchor="middle" stroke="#1a1a1a" stroke-width="0.35">P1</text>
<text x="613.3" y="822.3" font-size="24.5" font-family='"Liberation Serif", serif' fill="#1a1a1a" font-weight="bold" text-anchor="middle" stroke="#1a1a1a" stroke-width="0.35">P2</text>
<text x="657.8" y="821.7" font-size="24.5" font-family='"Liberation Serif", serif' fill="#1a1a1a" font-weight="bold" text-anchor="middle" stroke="#1a1a1a" stroke-width="0.35">P3</text>
<text x="701.2" y="821.7" font-size="24.5" font-family='"Liberation Serif", serif' fill="#1a1a1a" font-weight="bold" text-anchor="middle" stroke="#1a1a1a" stroke-width="0.35">P4</text>
<text x="744.0" y="824.3" font-size="24.5" font-family='"Liberation Serif", serif' fill="#1a1a1a" font-weight="bold" text-anchor="middle" stroke="#1a1a1a" stroke-width="0.35">P5</text>
<text x="785.3" y="825.0" font-size="24.5" font-family='"Liberation Serif", serif' fill="#1a1a1a" font-weight="bold" text-anchor="middle" stroke="#1a1a1a" stroke-width="0.35">P6</text>
<text x="828.7" y="823.3" font-size="24.5" font-family='"Liberation Serif", serif' fill="#1a1a1a" font-weight="bold" text-anchor="middle" stroke="#1a1a1a" stroke-width="0.35">P7</text>
<text x="868.8" y="823.3" font-size="24.5" font-family='"Liberation Serif", serif' fill="#1a1a1a" font-weight="bold" text-anchor="middle" stroke="#1a1a1a" stroke-width="0.35">P8</text>
<text x="909.2" y="822.3" font-size="24.5" font-family='"Liberation Serif", serif' fill="#1a1a1a" font-weight="bold" text-anchor="middle" stroke="#1a1a1a" stroke-width="0.35">P9</text>
<text x="957.2" y="821.0" font-size="24.5" font-family='"Liberation Serif", serif' fill="#1a1a1a" font-weight="bold" text-anchor="middle" stroke="#1a1a1a" stroke-width="0.35">P10</text>
<rect x="109.3" y="941.7" width="131.7" height="286.6" fill="#82c89c"/>
<rect x="241.0" y="941.7" width="134.3" height="286.6" fill="#e2f0e3"/>
<rect x="375.3" y="941.7" width="85.4" height="286.6" fill="#74b9e7"/>
<rect x="460.7" y="941.7" width="69.3" height="286.6" fill="#c4e6f8"/>
<defs>
<clipPath id="c5_0"><rect x="109.3" y="931.7" width="131.7" height="297.6"/></clipPath>
<clipPath id="c5_1"><rect x="241.0" y="931.7" width="134.3" height="297.6"/></clipPath>
<clipPath id="c5_2"><rect x="375.3" y="931.7" width="85.4" height="297.6"/></clipPath>
<clipPath id="c5_3"><rect x="460.7" y="931.7" width="69.3" height="297.6"/></clipPath>
<polyline id="l5bio" points="136.0,1025.0 178.7,1120.0 221.5,1138.3 264.2,1111.7 306.9,1049.3 349.6,1045.0 392.4,1123.3 435.1,1160.0 477.8,1046.7 520.6,1141.7" fill="none" stroke-width="4" stroke-linejoin="miter"/>
<polyline id="l5nut" points="136.0,998.3 178.7,1133.3 221.5,1133.3 264.2,1123.3 306.9,1027.7 349.6,1027.7 392.4,1175.0 435.1,1154.0 477.8,1225.7 520.6,1225.7" fill="none" stroke-width="3.8" stroke-linejoin="miter" stroke-dasharray="14 19"/>
<polyline id="l5om" points="136.0,1025.0 178.7,1130.0 221.5,1133.3 264.2,1103.3 306.9,1046.0 349.6,1036.7 392.4,1122.7 435.1,1131.7 477.8,1035.0 520.6,1121.7" fill="none" stroke-width="4" stroke-linejoin="miter" stroke-dasharray="4 12.5"/>
<polyline id="l5sec" points="136.0,1213.3 178.7,1196.7 221.5,1213.3 264.2,1181.7 306.9,1151.7 349.6,1115.0 392.4,1173.3 435.1,1210.0 477.8,1066.7 520.6,1163.3" fill="none" stroke-width="3.8" stroke-linejoin="miter" stroke-dasharray="4 10 14 10"/>
<polyline id="l5sed" points="136.0,1126.7 178.7,1225.7 221.5,1225.7 264.2,1225.7 306.9,1225.7 349.6,1225.7 392.4,1225.7 435.1,1225.7 477.8,1225.7 520.6,1225.7" fill="none" stroke-width="3.6" stroke-linejoin="miter" stroke-dasharray="62 5"/>
</defs>
<g clip-path="url(#c5_0)" stroke-opacity="0.93">
<use href="#l5bio" stroke="#96783e"/>
<use href="#l5nut" stroke="#5fc86e"/>
<use href="#l5om" stroke="#0e9658"/>
<use href="#l5sec" stroke="#9cb45e"/>
<use href="#l5sed" stroke="#698c41"/>
</g>
<g clip-path="url(#c5_1)" stroke-opacity="0.93">
<use href="#l5bio" stroke="#e37962"/>
<use href="#l5nut" stroke="#b4dca5"/>
<use href="#l5om" stroke="#62a686"/>
<use href="#l5sec" stroke="#eecd96"/>
<use href="#l5sed" stroke="#b99669"/>
</g>
<g clip-path="url(#c5_2)" stroke-opacity="0.93">
<use href="#l5bio" stroke="#a56976"/>
<use href="#l5nut" stroke="#5ab9b4"/>
<use href="#l5om" stroke="#148ca0"/>
<use href="#l5sec" stroke="#969f96"/>
<use href="#l5sed" stroke="#787870"/>
</g>
<g clip-path="url(#c5_3)" stroke-opacity="0.93">
<use href="#l5bio" stroke="#da7a66"/>
<use href="#l5nut" stroke="#96d2be"/>
<use href="#l5om" stroke="#46a096"/>
<use href="#l5sec" stroke="#e1c8a5"/>
<use href="#l5sed" stroke="#af9673"/>
</g>
<rect x="109.3" y="941.7" width="131.7" height="286.6" fill="none" stroke="#283c3c" stroke-opacity="0.5" stroke-width="1"/>
<rect x="241.0" y="941.7" width="134.3" height="286.6" fill="none" stroke="#283c3c" stroke-opacity="0.5" stroke-width="1"/>
<rect x="375.3" y="941.7" width="85.4" height="286.6" fill="none" stroke="#283c3c" stroke-opacity="0.5" stroke-width="1"/>
<rect x="460.7" y="941.7" width="69.3" height="286.6" fill="none" stroke="#283c3c" stroke-opacity="0.5" stroke-width="1"/>
<line x1="531.7" y1="934.0" x2="531.7" y2="1228.3" stroke="#111" stroke-width="1.4"/>
<line x1="109.3" y1="934.0" x2="109.3" y2="1228.3" stroke="#10241a" stroke-width="1.9"/>
<line x1="102.8" y1="1020.3" x2="109.3" y2="1020.3" stroke="#111" stroke-width="1.8"/>
<text x="77.0" y="1031.6" font-size="25.2" font-family='"Liberation Serif", serif' fill="#1a1a1a" font-weight="bold" text-anchor="middle" stroke="#1a1a1a" stroke-width="0.35">100</text>
<line x1="102.8" y1="1121.3" x2="109.3" y2="1121.3" stroke="#111" stroke-width="1.8"/>
<text x="76.9" y="1133.7" font-size="25.2" font-family='"Liberation Serif", serif' fill="#1a1a1a" font-weight="bold" text-anchor="middle" stroke="#1a1a1a" stroke-width="0.35">10</text>
<line x1="102.8" y1="1223.0" x2="109.3" y2="1223.0" stroke="#111" stroke-width="1.8"/>
<text x="77.8" y="1235.9" font-size="25.2" font-family='"Liberation Serif", serif' fill="#1a1a1a" font-weight="bold" text-anchor="middle" stroke="#1a1a1a" stroke-width="0.35">1</text>
<rect x="556.0" y="942.3" width="132.3" height="286.7" fill="#82c89c"/>
<rect x="688.3" y="942.3" width="134.4" height="286.7" fill="#e2f0e3"/>
<rect x="822.7" y="942.3" width="85.6" height="286.7" fill="#74b9e7"/>
<rect x="908.3" y="942.3" width="69.0" height="286.7" fill="#c4e6f8"/>
<defs>
<clipPath id="c6_0"><rect x="556.0" y="932.3" width="132.3" height="297.7"/></clipPath>
<clipPath id="c6_1"><rect x="688.3" y="932.3" width="134.4" height="297.7"/></clipPath>
<clipPath id="c6_2"><rect x="822.7" y="932.3" width="85.6" height="297.7"/></clipPath>
<clipPath id="c6_3"><rect x="908.3" y="932.3" width="69.0" height="297.7"/></clipPath>
<polyline id="l6bio" points="583.3,1053.3 626.2,1066.7 669.0,1111.7 711.9,1202.7 754.7,1115.0 797.6,1015.0 840.5,1190.0 883.3,1160.0 926.2,1203.3 969.0,1203.3" fill="none" stroke-width="4" stroke-linejoin="miter"/>
<polyline id="l6nut" points="583.3,1030.0 626.2,1066.7 669.0,1085.0 711.9,1173.3 754.7,1106.7 797.6,1052.7 840.5,1170.0 883.3,1175.0 926.2,1225.7 969.0,1225.7" fill="none" stroke-width="3.8" stroke-linejoin="miter" stroke-dasharray="14 19"/>
<polyline id="l6om" points="583.3,1049.3 626.2,1068.0 669.0,1105.0 711.9,1202.7 754.7,1126.7 797.6,1053.3 840.5,1172.7 883.3,1174.0 926.2,1225.7 969.0,1225.7" fill="none" stroke-width="4" stroke-linejoin="miter" stroke-dasharray="4 12.5"/>
<polyline id="l6sec" points="583.3,1165.0 626.2,1173.3 669.0,1225.7 711.9,1225.7 754.7,1155.0 797.6,1140.0 840.5,1225.7 883.3,1196.7 926.2,1225.7 969.0,1225.7" fill="none" stroke-width="3.8" stroke-linejoin="miter" stroke-dasharray="4 10 14 10"/>
<polyline id="l6sed" points="583.3,1225.7 626.2,1155.0 669.0,1225.7 711.9,1225.7 754.7,1126.7 797.6,1176.7 840.5,1225.7 883.3,1225.7 926.2,1225.7 969.0,1225.7" fill="none" stroke-width="3.6" stroke-linejoin="miter" stroke-dasharray="62 5"/>
</defs>
<g clip-path="url(#c6_0)" stroke-opacity="0.93">
<use href="#l6bio" stroke="#96783e"/>
<use href="#l6nut" stroke="#5fc86e"/>
<use href="#l6om" stroke="#0e9658"/>
<use href="#l6sec" stroke="#9cb45e"/>
<use href="#l6sed" stroke="#698c41"/>
</g>
<g clip-path="url(#c6_1)" stroke-opacity="0.93">
<use href="#l6bio" stroke="#e37962"/>
<use href="#l6nut" stroke="#b4dca5"/>
<use href="#l6om" stroke="#62a686"/>
<use href="#l6sec" stroke="#eecd96"/>
<use href="#l6sed" stroke="#b99669"/>
</g>
<g clip-path="url(#c6_2)" stroke-opacity="0.93">
<use href="#l6bio" stroke="#a56976"/>
<use href="#l6nut" stroke="#5ab9b4"/>
<use href="#l6om" stroke="#148ca0"/>
<use href="#l6sec" stroke="#969f96"/>
<use href="#l6sed" stroke="#787870"/>
</g>
<g clip-path="url(#c6_3)" stroke-opacity="0.93">
<use href="#l6bio" stroke="#da7a66"/>
<use href="#l6nut" stroke="#96d2be"/>
<use href="#l6om" stroke="#46a096"/>
<use href="#l6sec" stroke="#e1c8a5"/>
<use href="#l6sed" stroke="#af9673"/>
</g>
<rect x="556.0" y="942.3" width="132.3" height="286.7" fill="none" stroke="#283c3c" stroke-opacity="0.5" stroke-width="1"/>
<rect x="688.3" y="942.3" width="134.4" height="286.7" fill="none" stroke="#283c3c" stroke-opacity="0.5" stroke-width="1"/>
<rect x="822.7" y="942.3" width="85.6" height="286.7" fill="none" stroke="#283c3c" stroke-opacity="0.5" stroke-width="1"/>
<rect x="908.3" y="942.3" width="69.0" height="286.7" fill="none" stroke="#283c3c" stroke-opacity="0.5" stroke-width="1"/>
<line x1="978.3" y1="935.0" x2="978.3" y2="1229.0" stroke="#111" stroke-width="1.4"/>
<rect x="109.3" y="1277.3" width="131.7" height="286.2" fill="#82c89c"/>
<rect x="241.0" y="1277.3" width="134.3" height="286.2" fill="#e2f0e3"/>
<rect x="375.3" y="1277.3" width="85.4" height="286.2" fill="#74b9e7"/>
<rect x="460.7" y="1277.3" width="69.3" height="286.2" fill="#c4e6f8"/>
<defs>
<clipPath id="c7_0"><rect x="109.3" y="1267.3" width="131.7" height="297.2"/></clipPath>
<clipPath id="c7_1"><rect x="241.0" y="1267.3" width="134.3" height="297.2"/></clipPath>
<clipPath id="c7_2"><rect x="375.3" y="1267.3" width="85.4" height="297.2"/></clipPath>
<clipPath id="c7_3"><rect x="460.7" y="1267.3" width="69.3" height="297.2"/></clipPath>
<polyline id="l7bio" points="136.0,1391.7 178.7,1313.3 221.5,1341.0 264.2,1324.3 306.9,1299.0 349.6,1310.0 392.4,1338.3 435.1,1509.3 477.8,1431.0 520.6,1445.0" fill="none" stroke-width="4" stroke-linejoin="miter"/>
<polyline id="l7nut" points="136.0,1381.7 178.7,1313.0 221.5,1320.0 264.2,1295.0 306.9,1293.3 349.6,1298.3 392.4,1326.7 435.1,1520.0 477.8,1433.3 520.6,1431.7" fill="none" stroke-width="3.8" stroke-linejoin="miter" stroke-dasharray="14 19"/>
<polyline id="l7om" points="136.0,1381.7 178.7,1311.7 221.5,1336.7 264.2,1320.0 306.9,1292.7 349.6,1308.3 392.4,1340.0 435.1,1541.7 477.8,1431.0 520.6,1443.3" fill="none" stroke-width="4" stroke-linejoin="miter" stroke-dasharray="4 12.5"/>
<polyline id="l7sec" points="136.0,1475.0 178.7,1386.7 221.5,1438.3 264.2,1533.0 306.9,1384.0 349.6,1418.3 392.4,1463.3 435.1,1563.0 477.8,1505.0 520.6,1563.0" fill="none" stroke-width="3.8" stroke-linejoin="miter" stroke-dasharray="4 10 14 10"/>
<polyline id="l7sed" points="136.0,1563.0 178.7,1563.0 221.5,1563.0 264.2,1563.0 306.9,1524.3 349.6,1563.0 392.4,1563.0 435.1,1563.0 477.8,1563.0 520.6,1563.0" fill="none" stroke-width="3.6" stroke-linejoin="miter" stroke-dasharray="62 5"/>
</defs>
<g clip-path="url(#c7_0)" stroke-opacity="0.93">
<use href="#l7bio" stroke="#96783e"/>
<use href="#l7nut" stroke="#5fc86e"/>
<use href="#l7om" stroke="#0e9658"/>
<use href="#l7sec" stroke="#9cb45e"/>
<use href="#l7sed" stroke="#698c41"/>
</g>
<g clip-path="url(#c7_1)" stroke-opacity="0.93">
<use href="#l7bio" stroke="#e37962"/>
<use href="#l7nut" stroke="#b4dca5"/>
<use href="#l7om" stroke="#62a686"/>
<use href="#l7sec" stroke="#eecd96"/>
<use href="#l7sed" stroke="#b99669"/>
</g>
<g clip-path="url(#c7_2)" stroke-opacity="0.93">
<use href="#l7bio" stroke="#a56976"/>
<use href="#l7nut" stroke="#5ab9b4"/>
<use href="#l7om" stroke="#148ca0"/>
<use href="#l7sec" stroke="#969f96"/>
<use href="#l7sed" stroke="#787870"/>
</g>
<g clip-path="url(#c7_3)" stroke-opacity="0.93">
<use href="#l7bio" stroke="#da7a66"/>
<use href="#l7nut" stroke="#96d2be"/>
<use href="#l7om" stroke="#46a096"/>
<use href="#l7sec" stroke="#e1c8a5"/>
<use href="#l7sed" stroke="#af9673"/>
</g>
<rect x="109.3" y="1277.3" width="131.7" height="286.2" fill="none" stroke="#283c3c" stroke-opacity="0.5" stroke-width="1"/>
<rect x="241.0" y="1277.3" width="134.3" height="286.2" fill="none" stroke="#283c3c" stroke-opacity="0.5" stroke-width="1"/>
<rect x="375.3" y="1277.3" width="85.4" height="286.2" fill="none" stroke="#283c3c" stroke-opacity="0.5" stroke-width="1"/>
<rect x="460.7" y="1277.3" width="69.3" height="286.2" fill="none" stroke="#283c3c" stroke-opacity="0.5" stroke-width="1"/>
<line x1="531.7" y1="1269.0" x2="531.7" y2="1564.5" stroke="#111" stroke-width="1.4"/>
<line x1="109.3" y1="1269.0" x2="109.3" y2="1563.5" stroke="#10241a" stroke-width="1.9"/>
<line x1="102.8" y1="1358.6" x2="109.3" y2="1358.6" stroke="#111" stroke-width="1.8"/>
<text x="77.3" y="1370.2" font-size="25.2" font-family='"Liberation Serif", serif' fill="#1a1a1a" font-weight="bold" text-anchor="middle" stroke="#1a1a1a" stroke-width="0.35">100</text>
<line x1="102.8" y1="1459.0" x2="109.3" y2="1459.0" stroke="#111" stroke-width="1.8"/>
<text x="77.3" y="1472.8" font-size="25.2" font-family='"Liberation Serif", serif' fill="#1a1a1a" font-weight="bold" text-anchor="middle" stroke="#1a1a1a" stroke-width="0.35">10</text>
<line x1="102.8" y1="1560.8" x2="109.3" y2="1560.8" stroke="#111" stroke-width="1.8"/>
<text x="77.6" y="1573.2" font-size="25.2" font-family='"Liberation Serif", serif' fill="#1a1a1a" font-weight="bold" text-anchor="middle" stroke="#1a1a1a" stroke-width="0.35">1</text>
<line x1="108.8" y1="1563.5" x2="546.7" y2="1563.5" stroke="#111" stroke-width="2.2"/>
<line x1="136.0" y1="1563.5" x2="136.0" y2="1568.5" stroke="#111" stroke-width="1.6"/>
<line x1="178.7" y1="1563.5" x2="178.7" y2="1568.5" stroke="#111" stroke-width="1.6"/>
<line x1="221.5" y1="1563.5" x2="221.5" y2="1568.5" stroke="#111" stroke-width="1.6"/>
<line x1="264.2" y1="1563.5" x2="264.2" y2="1568.5" stroke="#111" stroke-width="1.6"/>
<line x1="306.9" y1="1563.5" x2="306.9" y2="1568.5" stroke="#111" stroke-width="1.6"/>
<line x1="349.6" y1="1563.5" x2="349.6" y2="1568.5" stroke="#111" stroke-width="1.6"/>
<line x1="392.4" y1="1563.5" x2="392.4" y2="1568.5" stroke="#111" stroke-width="1.6"/>
<line x1="435.1" y1="1563.5" x2="435.1" y2="1568.5" stroke="#111" stroke-width="1.6"/>
<line x1="477.8" y1="1563.5" x2="477.8" y2="1568.5" stroke="#111" stroke-width="1.6"/>
<line x1="520.6" y1="1563.5" x2="520.6" y2="1568.5" stroke="#111" stroke-width="1.6"/>
<text x="137.5" y="1591.7" font-size="24.5" font-family='"Liberation Serif", serif' fill="#1a1a1a" font-weight="bold" text-anchor="middle" stroke="#1a1a1a" stroke-width="0.35">P1</text>
<text x="182.2" y="1591.7" font-size="24.5" font-family='"Liberation Serif", serif' fill="#1a1a1a" font-weight="bold" text-anchor="middle" stroke="#1a1a1a" stroke-width="0.35">P2</text>
<text x="227.5" y="1591.7" font-size="24.5" font-family='"Liberation Serif", serif' fill="#1a1a1a" font-weight="bold" text-anchor="middle" stroke="#1a1a1a" stroke-width="0.35">P3</text>
<text x="270.0" y="1591.7" font-size="24.5" font-family='"Liberation Serif", serif' fill="#1a1a1a" font-weight="bold" text-anchor="middle" stroke="#1a1a1a" stroke-width="0.35">P4</text>
<text x="313.0" y="1591.7" font-size="24.5" font-family='"Liberation Serif", serif' fill="#1a1a1a" font-weight="bold" text-anchor="middle" stroke="#1a1a1a" stroke-width="0.35">P5</text>
<text x="354.5" y="1591.7" font-size="24.5" font-family='"Liberation Serif", serif' fill="#1a1a1a" font-weight="bold" text-anchor="middle" stroke="#1a1a1a" stroke-width="0.35">P6</text>
<text x="397.8" y="1591.7" font-size="24.5" font-family='"Liberation Serif", serif' fill="#1a1a1a" font-weight="bold" text-anchor="middle" stroke="#1a1a1a" stroke-width="0.35">P7</text>
<text x="437.8" y="1591.7" font-size="24.5" font-family='"Liberation Serif", serif' fill="#1a1a1a" font-weight="bold" text-anchor="middle" stroke="#1a1a1a" stroke-width="0.35">P8</text>
<text x="478.3" y="1591.7" font-size="24.5" font-family='"Liberation Serif", serif' fill="#1a1a1a" font-weight="bold" text-anchor="middle" stroke="#1a1a1a" stroke-width="0.35">P9</text>
<text x="526.2" y="1591.7" font-size="24.5" font-family='"Liberation Serif", serif' fill="#1a1a1a" font-weight="bold" text-anchor="middle" stroke="#1a1a1a" stroke-width="0.35">P10</text>
<rect x="556.0" y="1277.3" width="132.3" height="287.0" fill="#82c89c"/>
<rect x="688.3" y="1277.3" width="134.4" height="287.0" fill="#e2f0e3"/>
<rect x="822.7" y="1277.3" width="85.6" height="287.0" fill="#74b9e7"/>
<rect x="908.3" y="1277.3" width="69.0" height="287.0" fill="#c4e6f8"/>
<defs>
<clipPath id="c8_0"><rect x="556.0" y="1267.3" width="132.3" height="298.0"/></clipPath>
<clipPath id="c8_1"><rect x="688.3" y="1267.3" width="134.4" height="298.0"/></clipPath>
<clipPath id="c8_2"><rect x="822.7" y="1267.3" width="85.6" height="298.0"/></clipPath>
<clipPath id="c8_3"><rect x="908.3" y="1267.3" width="69.0" height="298.0"/></clipPath>
<polyline id="l8bio" points="583.3,1564.0 626.2,1326.7 669.0,1408.3 711.9,1320.0 754.7,1307.3 797.6,1295.0 840.5,1306.7 883.3,1381.7 926.2,1416.7 969.0,1396.0" fill="none" stroke-width="4" stroke-linejoin="miter"/>
<polyline id="l8nut" points="583.3,1564.0 626.2,1325.0 669.0,1400.0 711.9,1293.3 754.7,1290.0 797.6,1282.3 840.5,1346.7 883.3,1396.7 926.2,1414.3 969.0,1425.0" fill="none" stroke-width="3.8" stroke-linejoin="miter" stroke-dasharray="14 19"/>
<polyline id="l8om" points="583.3,1564.0 626.2,1321.7 669.0,1405.0 711.9,1320.0 754.7,1307.3 797.6,1296.7 840.5,1355.0 883.3,1395.0 926.2,1445.0 969.0,1445.0" fill="none" stroke-width="4" stroke-linejoin="miter" stroke-dasharray="4 12.5"/>
<polyline id="l8sec" points="583.3,1564.0 626.2,1428.3 669.0,1485.0 711.9,1488.3 754.7,1403.3 797.6,1386.0 840.5,1464.3 883.3,1466.7 926.2,1564.0 969.0,1564.0" fill="none" stroke-width="3.8" stroke-linejoin="miter" stroke-dasharray="4 10 14 10"/>
<polyline id="l8sed" points="583.3,1564.0 626.2,1564.0 669.0,1564.0 711.9,1564.0 754.7,1564.0 797.6,1480.7 840.5,1564.0 883.3,1564.0 926.2,1564.0 969.0,1564.0" fill="none" stroke-width="3.6" stroke-linejoin="miter" stroke-dasharray="62 5"/>
</defs>
<g clip-path="url(#c8_0)" stroke-opacity="0.93">
<use href="#l8bio" stroke="#96783e"/>
<use href="#l8nut" stroke="#5fc86e"/>
<use href="#l8om" stroke="#0e9658"/>
<use href="#l8sec" stroke="#9cb45e"/>
<use href="#l8sed" stroke="#698c41"/>
</g>
<g clip-path="url(#c8_1)" stroke-opacity="0.93">
<use href="#l8bio" stroke="#e37962"/>
<use href="#l8nut" stroke="#b4dca5"/>
<use href="#l8om" stroke="#62a686"/>
<use href="#l8sec" stroke="#eecd96"/>
<use href="#l8sed" stroke="#b99669"/>
</g>
<g clip-path="url(#c8_2)" stroke-opacity="0.93">
<use href="#l8bio" stroke="#a56976"/>
<use href="#l8nut" stroke="#5ab9b4"/>
<use href="#l8om" stroke="#148ca0"/>
<use href="#l8sec" stroke="#969f96"/>
<use href="#l8sed" stroke="#787870"/>
</g>
<g clip-path="url(#c8_3)" stroke-opacity="0.93">
<use href="#l8bio" stroke="#da7a66"/>
<use href="#l8nut" stroke="#96d2be"/>
<use href="#l8om" stroke="#46a096"/>
<use href="#l8sec" stroke="#e1c8a5"/>
<use href="#l8sed" stroke="#af9673"/>
</g>
<rect x="556.0" y="1277.3" width="132.3" height="287.0" fill="none" stroke="#283c3c" stroke-opacity="0.5" stroke-width="1"/>
<rect x="688.3" y="1277.3" width="134.4" height="287.0" fill="none" stroke="#283c3c" stroke-opacity="0.5" stroke-width="1"/>
<rect x="822.7" y="1277.3" width="85.6" height="287.0" fill="none" stroke="#283c3c" stroke-opacity="0.5" stroke-width="1"/>
<rect x="908.3" y="1277.3" width="69.0" height="287.0" fill="none" stroke="#283c3c" stroke-opacity="0.5" stroke-width="1"/>
<line x1="978.3" y1="1269.0" x2="978.3" y2="1565.3" stroke="#111" stroke-width="1.4"/>
<line x1="555.5" y1="1564.3" x2="991.7" y2="1564.3" stroke="#111" stroke-width="2.2"/>
<line x1="583.3" y1="1564.3" x2="583.3" y2="1569.3" stroke="#111" stroke-width="1.6"/>
<line x1="626.2" y1="1564.3" x2="626.2" y2="1569.3" stroke="#111" stroke-width="1.6"/>
<line x1="669.0" y1="1564.3" x2="669.0" y2="1569.3" stroke="#111" stroke-width="1.6"/>
<line x1="711.9" y1="1564.3" x2="711.9" y2="1569.3" stroke="#111" stroke-width="1.6"/>
<line x1="754.7" y1="1564.3" x2="754.7" y2="1569.3" stroke="#111" stroke-width="1.6"/>
<line x1="797.6" y1="1564.3" x2="797.6" y2="1569.3" stroke="#111" stroke-width="1.6"/>
<line x1="840.5" y1="1564.3" x2="840.5" y2="1569.3" stroke="#111" stroke-width="1.6"/>
<line x1="883.3" y1="1564.3" x2="883.3" y2="1569.3" stroke="#111" stroke-width="1.6"/>
<line x1="926.2" y1="1564.3" x2="926.2" y2="1569.3" stroke="#111" stroke-width="1.6"/>
<line x1="969.0" y1="1564.3" x2="969.0" y2="1569.3" stroke="#111" stroke-width="1.6"/>
<text x="575.8" y="1591.3" font-size="24.5" font-family='"Liberation Serif", serif' fill="#1a1a1a" font-weight="bold" text-anchor="middle" stroke="#1a1a1a" stroke-width="0.35">P1</text>
<text x="622.0" y="1591.3" font-size="24.5" font-family='"Liberation Serif", serif' fill="#1a1a1a" font-weight="bold" text-anchor="middle" stroke="#1a1a1a" stroke-width="0.35">P2</text>
<text x="666.2" y="1591.3" font-size="24.5" font-family='"Liberation Serif", serif' fill="#1a1a1a" font-weight="bold" text-anchor="middle" stroke="#1a1a1a" stroke-width="0.35">P3</text>
<text x="709.5" y="1591.3" font-size="24.5" font-family='"Liberation Serif", serif' fill="#1a1a1a" font-weight="bold" text-anchor="middle" stroke="#1a1a1a" stroke-width="0.35">P4</text>
<text x="752.2" y="1591.3" font-size="24.5" font-family='"Liberation Serif", serif' fill="#1a1a1a" font-weight="bold" text-anchor="middle" stroke="#1a1a1a" stroke-width="0.35">P5</text>
<text x="793.8" y="1591.3" font-size="24.5" font-family='"Liberation Serif", serif' fill="#1a1a1a" font-weight="bold" text-anchor="middle" stroke="#1a1a1a" stroke-width="0.35">P6</text>
<text x="836.2" y="1591.3" font-size="24.5" font-family='"Liberation Serif", serif' fill="#1a1a1a" font-weight="bold" text-anchor="middle" stroke="#1a1a1a" stroke-width="0.35">P7</text>
<text x="877.8" y="1591.3" font-size="24.5" font-family='"Liberation Serif", serif' fill="#1a1a1a" font-weight="bold" text-anchor="middle" stroke="#1a1a1a" stroke-width="0.35">P8</text>
<text x="916.7" y="1591.3" font-size="24.5" font-family='"Liberation Serif", serif' fill="#1a1a1a" font-weight="bold" text-anchor="middle" stroke="#1a1a1a" stroke-width="0.35">P9</text>
<text x="965.5" y="1591.3" font-size="24.5" font-family='"Liberation Serif", serif' fill="#1a1a1a" font-weight="bold" text-anchor="middle" stroke="#1a1a1a" stroke-width="0.35">P10</text>
<rect x="108.3" y="1734.0" width="200.0" height="269.3" fill="#82c89c"/>
<rect x="308.3" y="1734.0" width="71.7" height="269.3" fill="#e2f0e3"/>
<rect x="380.0" y="1734.0" width="45.7" height="269.3" fill="#74b9e7"/>
<rect x="425.7" y="1734.0" width="107.0" height="269.3" fill="#c4e6f8"/>
<defs>
<clipPath id="c9_0"><rect x="108.3" y="1724.0" width="200.0" height="280.3"/></clipPath>
<clipPath id="c9_1"><rect x="308.3" y="1724.0" width="71.7" height="280.3"/></clipPath>
<clipPath id="c9_2"><rect x="380.0" y="1724.0" width="45.7" height="280.3"/></clipPath>
<clipPath id="c9_3"><rect x="425.7" y="1724.0" width="107.0" height="280.3"/></clipPath>
<polyline id="l9bio" points="132.3,1758.3 170.9,1753.3 209.5,1843.3 248.1,1832.7 286.7,2000.0 325.3,1787.3 363.9,1893.3 402.5,2000.0 441.1,1771.7 479.7,1933.3 518.3,2000.0" fill="none" stroke-width="4" stroke-linejoin="miter"/>
<polyline id="l9nut" points="132.3,1728.3 170.9,1738.3 209.5,1816.0 248.1,1814.0 286.7,2001.5 325.3,1756.7 363.9,2001.5 402.5,2001.5 441.1,2001.5 479.7,2001.5 518.3,2001.5" fill="none" stroke-width="3.8" stroke-linejoin="miter" stroke-dasharray="14 19"/>
<polyline id="l9om" points="132.3,1758.3 170.9,1752.7 209.5,1843.3 248.1,1838.0 286.7,2000.0 325.3,1787.3 363.9,2001.5 402.5,2001.5 441.1,1753.3 479.7,1915.0 518.3,2001.5" fill="none" stroke-width="4" stroke-linejoin="miter" stroke-dasharray="4 12.5"/>
<polyline id="l9sec" points="132.3,2001.5 170.9,1816.7 209.5,2001.5 248.1,2001.5 286.7,2001.5 325.3,1958.0 363.9,2001.5 402.5,2001.5 441.1,1790.0 479.7,1950.0 518.3,2001.5" fill="none" stroke-width="3.8" stroke-linejoin="miter" stroke-dasharray="4 10 14 10"/>
<polyline id="l9sed" points="132.3,2001.5 170.9,1816.7 209.5,2001.5 248.1,2001.5 286.7,2001.5 325.3,2001.5 363.9,2001.5 402.5,2001.5 441.1,2001.5 479.7,2001.5 518.3,2001.5" fill="none" stroke-width="3.6" stroke-linejoin="miter" stroke-dasharray="62 5"/>
</defs>
<g clip-path="url(#c9_0)" stroke-opacity="0.93">
<use href="#l9bio" stroke="#96783e"/>
<use href="#l9nut" stroke="#5fc86e"/>
<use href="#l9om" stroke="#0e9658"/>
<use href="#l9sec" stroke="#9cb45e"/>
<use href="#l9sed" stroke="#698c41"/>
</g>
<g clip-path="url(#c9_1)" stroke-opacity="0.93">
<use href="#l9bio" stroke="#e37962"/>
<use href="#l9nut" stroke="#b4dca5"/>
<use href="#l9om" stroke="#62a686"/>
<use href="#l9sec" stroke="#eecd96"/>
<use href="#l9sed" stroke="#b99669"/>
</g>
<g clip-path="url(#c9_2)" stroke-opacity="0.93">
<use href="#l9bio" stroke="#a56976"/>
<use href="#l9nut" stroke="#5ab9b4"/>
<use href="#l9om" stroke="#148ca0"/>
<use href="#l9sec" stroke="#969f96"/>
<use href="#l9sed" stroke="#787870"/>
</g>
<g clip-path="url(#c9_3)" stroke-opacity="0.93">
<use href="#l9bio" stroke="#da7a66"/>
<use href="#l9nut" stroke="#96d2be"/>
<use href="#l9om" stroke="#46a096"/>
<use href="#l9sec" stroke="#e1c8a5"/>
<use href="#l9sed" stroke="#af9673"/>
</g>
<rect x="108.3" y="1734.0" width="200.0" height="269.3" fill="none" stroke="#283c3c" stroke-opacity="0.5" stroke-width="1"/>
<rect x="308.3" y="1734.0" width="71.7" height="269.3" fill="none" stroke="#283c3c" stroke-opacity="0.5" stroke-width="1"/>
<rect x="380.0" y="1734.0" width="45.7" height="269.3" fill="none" stroke="#283c3c" stroke-opacity="0.5" stroke-width="1"/>
<rect x="425.7" y="1734.0" width="107.0" height="269.3" fill="none" stroke="#283c3c" stroke-opacity="0.5" stroke-width="1"/>
<line x1="534.0" y1="1728.3" x2="534.0" y2="2003.3" stroke="#111" stroke-width="1.4"/>
<line x1="108.3" y1="1728.3" x2="108.3" y2="2003.3" stroke="#10241a" stroke-width="1.9"/>
<line x1="101.8" y1="1729.0" x2="108.3" y2="1729.0" stroke="#111" stroke-width="1.8"/>
<text x="77.4" y="1740.0" font-size="25.2" font-family='"Liberation Serif", serif' fill="#1a1a1a" font-weight="bold" text-anchor="middle" stroke="#1a1a1a" stroke-width="0.35">1000</text>
<line x1="101.8" y1="1832.2" x2="108.3" y2="1832.2" stroke="#111" stroke-width="1.8"/>
<text x="77.4" y="1842.2" font-size="25.2" font-family='"Liberation Serif", serif' fill="#1a1a1a" font-weight="bold" text-anchor="middle" stroke="#1a1a1a" stroke-width="0.35">100</text>
<line x1="101.8" y1="1936.6" x2="108.3" y2="1936.6" stroke="#111" stroke-width="1.8"/>
<text x="77.0" y="1946.5" font-size="25.2" font-family='"Liberation Serif", serif' fill="#1a1a1a" font-weight="bold" text-anchor="middle" stroke="#1a1a1a" stroke-width="0.35">10</text>
<rect x="554.3" y="1735.7" width="197.4" height="269.3" fill="#82c89c"/>
<rect x="751.7" y="1735.7" width="72.6" height="269.3" fill="#e2f0e3"/>
<rect x="824.3" y="1735.7" width="44.7" height="269.3" fill="#74b9e7"/>
<rect x="869.0" y="1735.7" width="107.7" height="269.3" fill="#c4e6f8"/>
<defs>
<clipPath id="c10_0"><rect x="554.3" y="1725.7" width="197.4" height="280.3"/></clipPath>
<clipPath id="c10_1"><rect x="751.7" y="1725.7" width="72.6" height="280.3"/></clipPath>
<clipPath id="c10_2"><rect x="824.3" y="1725.7" width="44.7" height="280.3"/></clipPath>
<clipPath id="c10_3"><rect x="869.0" y="1725.7" width="107.7" height="280.3"/></clipPath>
<polyline id="l10bio" points="575.7,1850.0 614.3,1776.7 652.9,1896.7 691.5,1885.0 730.1,1946.7 768.7,1834.3 807.3,1853.3 845.9,1916.7 884.5,1998.3 923.1,1840.0 961.7,1806.0" fill="none" stroke-width="4" stroke-linejoin="miter"/>
<polyline id="l10nut" points="575.7,1823.3 614.3,1760.0 652.9,1913.3 691.5,1870.0 730.1,1933.3 768.7,1830.0 807.3,1856.7 845.9,1891.7 884.5,1998.0 923.1,1933.3 961.7,1885.0" fill="none" stroke-width="3.8" stroke-linejoin="miter" stroke-dasharray="14 19"/>
<polyline id="l10om" points="575.7,1850.0 614.3,1781.7 652.9,1946.7 691.5,1903.3 730.1,1946.7 768.7,1845.0 807.3,1877.7 845.9,1916.7 884.5,1998.3 923.1,1873.0 961.7,1793.3" fill="none" stroke-width="4" stroke-linejoin="miter" stroke-dasharray="4 12.5"/>
<polyline id="l10sec" points="575.7,2001.0 614.3,1930.0 652.9,2001.0 691.5,2001.0 730.1,2001.0 768.7,2001.0 807.3,2001.0 845.9,2001.0 884.5,2001.0 923.1,1923.3 961.7,1836.7" fill="none" stroke-width="3.8" stroke-linejoin="miter" stroke-dasharray="4 10 14 10"/>
<polyline id="l10sed" points="575.7,2001.0 614.3,2001.0 652.9,2001.0 691.5,2001.0 730.1,2001.0 768.7,2001.0 807.3,2001.0 845.9,2001.0 884.5,2001.0 923.1,2001.0 961.7,2001.0" fill="none" stroke-width="3.6" stroke-linejoin="miter" stroke-dasharray="62 5"/>
</defs>
<g clip-path="url(#c10_0)" stroke-opacity="0.93">
<use href="#l10bio" stroke="#96783e"/>
<use href="#l10nut" stroke="#5fc86e"/>
<use href="#l10om" stroke="#0e9658"/>
<use href="#l10sec" stroke="#9cb45e"/>
<use href="#l10sed" stroke="#698c41"/>
</g>
<g clip-path="url(#c10_1)" stroke-opacity="0.93">
<use href="#l10bio" stroke="#e37962"/>
<use href="#l10nut" stroke="#b4dca5"/>
<use href="#l10om" stroke="#62a686"/>
<use href="#l10sec" stroke="#eecd96"/>
<use href="#l10sed" stroke="#b99669"/>
</g>
<g clip-path="url(#c10_2)" stroke-opacity="0.93">
<use href="#l10bio" stroke="#a56976"/>
<use href="#l10nut" stroke="#5ab9b4"/>
<use href="#l10om" stroke="#148ca0"/>
<use href="#l10sec" stroke="#969f96"/>
<use href="#l10sed" stroke="#787870"/>
</g>
<g clip-path="url(#c10_3)" stroke-opacity="0.93">
<use href="#l10bio" stroke="#da7a66"/>
<use href="#l10nut" stroke="#96d2be"/>
<use href="#l10om" stroke="#46a096"/>
<use href="#l10sec" stroke="#e1c8a5"/>
<use href="#l10sed" stroke="#af9673"/>
</g>
<rect x="554.3" y="1735.7" width="197.4" height="269.3" fill="none" stroke="#283c3c" stroke-opacity="0.5" stroke-width="1"/>
<rect x="751.7" y="1735.7" width="72.6" height="269.3" fill="none" stroke="#283c3c" stroke-opacity="0.5" stroke-width="1"/>
<rect x="824.3" y="1735.7" width="44.7" height="269.3" fill="none" stroke="#283c3c" stroke-opacity="0.5" stroke-width="1"/>
<rect x="869.0" y="1735.7" width="107.7" height="269.3" fill="none" stroke="#283c3c" stroke-opacity="0.5" stroke-width="1"/>
<line x1="977.3" y1="1729.3" x2="977.3" y2="2005.0" stroke="#111" stroke-width="1.4"/>
<rect x="108.3" y="2060.0" width="196.7" height="269.0" fill="#82c89c"/>
<rect x="305.0" y="2060.0" width="72.7" height="269.0" fill="#e2f0e3"/>
<rect x="377.7" y="2060.0" width="45.0" height="269.0" fill="#74b9e7"/>
<rect x="422.7" y="2060.0" width="107.3" height="269.0" fill="#c4e6f8"/>
<defs>
<clipPath id="c11_0"><rect x="108.3" y="2050.0" width="196.7" height="280.0"/></clipPath>
<clipPath id="c11_1"><rect x="305.0" y="2050.0" width="72.7" height="280.0"/></clipPath>
<clipPath id="c11_2"><rect x="377.7" y="2050.0" width="45.0" height="280.0"/></clipPath>
<clipPath id="c11_3"><rect x="422.7" y="2050.0" width="107.3" height="280.0"/></clipPath>
<polyline id="l11bio" points="130.7,2192.7 169.5,2166.7 208.2,2190.0 247.0,2126.7 285.7,2184.3 324.5,2192.7 363.3,2211.7 402.0,2273.3 440.8,2326.7 479.5,2260.7 518.3,2274.0" fill="none" stroke-width="4" stroke-linejoin="miter"/>
<polyline id="l11nut" points="130.7,2180.0 169.5,2150.0 208.2,2191.7 247.0,2170.0 285.7,2183.0 324.5,2211.7 363.3,2210.0 402.0,2243.3 440.8,2326.7 479.5,2328.5 518.3,2250.0" fill="none" stroke-width="3.8" stroke-linejoin="miter" stroke-dasharray="14 19"/>
<polyline id="l11om" points="130.7,2211.7 169.5,2167.0 208.2,2192.0 247.0,2176.7 285.7,2203.3 324.5,2242.3 363.3,2245.0 402.0,2275.0 440.8,2326.7 479.5,2243.3 518.3,2273.0" fill="none" stroke-width="4" stroke-linejoin="miter" stroke-dasharray="4 12.5"/>
<polyline id="l11sec" points="130.7,2315.0 169.5,2326.7 208.2,2286.7 247.0,2284.0 285.7,2315.0 324.5,2328.5 363.3,2328.5 402.0,2328.5 440.8,2328.5 479.5,2286.7 518.3,2320.0" fill="none" stroke-width="3.8" stroke-linejoin="miter" stroke-dasharray="4 10 14 10"/>
<polyline id="l11sed" points="130.7,2328.5 169.5,2328.5 208.2,2328.5 247.0,2328.5 285.7,2328.5 324.5,2328.5 363.3,2328.5 402.0,2328.5 440.8,2328.5 479.5,2328.5 518.3,2328.5" fill="none" stroke-width="3.6" stroke-linejoin="miter" stroke-dasharray="62 5"/>
</defs>
<g clip-path="url(#c11_0)" stroke-opacity="0.93">
<use href="#l11bio" stroke="#96783e"/>
<use href="#l11nut" stroke="#5fc86e"/>
<use href="#l11om" stroke="#0e9658"/>
<use href="#l11sec" stroke="#9cb45e"/>
<use href="#l11sed" stroke="#698c41"/>
</g>
<g clip-path="url(#c11_1)" stroke-opacity="0.93">
<use href="#l11bio" stroke="#e37962"/>
<use href="#l11nut" stroke="#b4dca5"/>
<use href="#l11om" stroke="#62a686"/>
<use href="#l11sec" stroke="#eecd96"/>
<use href="#l11sed" stroke="#b99669"/>
</g>
<g clip-path="url(#c11_2)" stroke-opacity="0.93">
<use href="#l11bio" stroke="#a56976"/>
<use href="#l11nut" stroke="#5ab9b4"/>
<use href="#l11om" stroke="#148ca0"/>
<use href="#l11sec" stroke="#969f96"/>
<use href="#l11sed" stroke="#787870"/>
</g>
<g clip-path="url(#c11_3)" stroke-opacity="0.93">
<use href="#l11bio" stroke="#da7a66"/>
<use href="#l11nut" stroke="#96d2be"/>
<use href="#l11om" stroke="#46a096"/>
<use href="#l11sec" stroke="#e1c8a5"/>
<use href="#l11sed" stroke="#af9673"/>
</g>
<rect x="108.3" y="2060.0" width="196.7" height="269.0" fill="none" stroke="#283c3c" stroke-opacity="0.5" stroke-width="1"/>
<rect x="305.0" y="2060.0" width="72.7" height="269.0" fill="none" stroke="#283c3c" stroke-opacity="0.5" stroke-width="1"/>
<rect x="377.7" y="2060.0" width="45.0" height="269.0" fill="none" stroke="#283c3c" stroke-opacity="0.5" stroke-width="1"/>
<rect x="422.7" y="2060.0" width="107.3" height="269.0" fill="none" stroke="#283c3c" stroke-opacity="0.5" stroke-width="1"/>
<line x1="531.7" y1="2053.3" x2="531.7" y2="2330.0" stroke="#111" stroke-width="1.4"/>
<line x1="108.3" y1="2053.3" x2="108.3" y2="2329.0" stroke="#10241a" stroke-width="1.9"/>
<line x1="101.8" y1="2056.2" x2="108.3" y2="2056.2" stroke="#111" stroke-width="1.8"/>
<text x="77.6" y="2067.4" font-size="25.2" font-family='"Liberation Serif", serif' fill="#1a1a1a" font-weight="bold" text-anchor="middle" stroke="#1a1a1a" stroke-width="0.35">1000</text>
<line x1="101.8" y1="2160.5" x2="108.3" y2="2160.5" stroke="#111" stroke-width="1.8"/>
<text x="77.4" y="2170.1" font-size="25.2" font-family='"Liberation Serif", serif' fill="#1a1a1a" font-weight="bold" text-anchor="middle" stroke="#1a1a1a" stroke-width="0.35">100</text>
<line x1="101.8" y1="2263.0" x2="108.3" y2="2263.0" stroke="#111" stroke-width="1.8"/>
<text x="77.0" y="2272.5" font-size="25.2" font-family='"Liberation Serif", serif' fill="#1a1a1a" font-weight="bold" text-anchor="middle" stroke="#1a1a1a" stroke-width="0.35">10</text>
<line x1="107.8" y1="2329.0" x2="541.7" y2="2329.0" stroke="#111" stroke-width="2.2"/>
<line x1="130.7" y1="2329.0" x2="130.7" y2="2334.0" stroke="#111" stroke-width="1.6"/>
<line x1="169.5" y1="2329.0" x2="169.5" y2="2334.0" stroke="#111" stroke-width="1.6"/>
<line x1="208.2" y1="2329.0" x2="208.2" y2="2334.0" stroke="#111" stroke-width="1.6"/>
<line x1="247.0" y1="2329.0" x2="247.0" y2="2334.0" stroke="#111" stroke-width="1.6"/>
<line x1="285.7" y1="2329.0" x2="285.7" y2="2334.0" stroke="#111" stroke-width="1.6"/>
<line x1="324.5" y1="2329.0" x2="324.5" y2="2334.0" stroke="#111" stroke-width="1.6"/>
<line x1="363.3" y1="2329.0" x2="363.3" y2="2334.0" stroke="#111" stroke-width="1.6"/>
<line x1="402.0" y1="2329.0" x2="402.0" y2="2334.0" stroke="#111" stroke-width="1.6"/>
<line x1="440.8" y1="2329.0" x2="440.8" y2="2334.0" stroke="#111" stroke-width="1.6"/>
<line x1="479.5" y1="2329.0" x2="479.5" y2="2334.0" stroke="#111" stroke-width="1.6"/>
<line x1="518.3" y1="2329.0" x2="518.3" y2="2334.0" stroke="#111" stroke-width="1.6"/>
<text x="124.2" y="2354.3" font-size="24.5" font-family='"Liberation Serif", serif' fill="#1a1a1a" font-weight="bold" text-anchor="middle" stroke="#1a1a1a" stroke-width="0.35">P1</text>
<text x="163.0" y="2354.3" font-size="24.5" font-family='"Liberation Serif", serif' fill="#1a1a1a" font-weight="bold" text-anchor="middle" stroke="#1a1a1a" stroke-width="0.35">P2</text>
<text x="204.5" y="2354.3" font-size="24.5" font-family='"Liberation Serif", serif' fill="#1a1a1a" font-weight="bold" text-anchor="middle" stroke="#1a1a1a" stroke-width="0.35">P3</text>
<text x="243.0" y="2354.3" font-size="24.5" font-family='"Liberation Serif", serif' fill="#1a1a1a" font-weight="bold" text-anchor="middle" stroke="#1a1a1a" stroke-width="0.35">P4</text>
<text x="283.0" y="2354.3" font-size="24.5" font-family='"Liberation Serif", serif' fill="#1a1a1a" font-weight="bold" text-anchor="middle" stroke="#1a1a1a" stroke-width="0.35">P5</text>
<text x="322.2" y="2354.3" font-size="24.5" font-family='"Liberation Serif", serif' fill="#1a1a1a" font-weight="bold" text-anchor="middle" stroke="#1a1a1a" stroke-width="0.35">P6</text>
<text x="358.8" y="2354.3" font-size="24.5" font-family='"Liberation Serif", serif' fill="#1a1a1a" font-weight="bold" text-anchor="middle" stroke="#1a1a1a" stroke-width="0.35">P7</text>
<text x="397.8" y="2354.3" font-size="24.5" font-family='"Liberation Serif", serif' fill="#1a1a1a" font-weight="bold" text-anchor="middle" stroke="#1a1a1a" stroke-width="0.35">P8</text>
<text x="436.7" y="2354.3" font-size="24.5" font-family='"Liberation Serif", serif' fill="#1a1a1a" font-weight="bold" text-anchor="middle" stroke="#1a1a1a" stroke-width="0.35">P9</text>
<text x="477.2" y="2354.3" font-size="24.5" font-family='"Liberation Serif", serif' fill="#1a1a1a" font-weight="bold" text-anchor="middle" stroke="#1a1a1a" stroke-width="0.35">P10</text>
<text x="520.5" y="2354.3" font-size="24.5" font-family='"Liberation Serif", serif' fill="#1a1a1a" font-weight="bold" text-anchor="middle" stroke="#1a1a1a" stroke-width="0.35">P11</text>
<rect x="551.7" y="2060.0" width="197.3" height="269.0" fill="#82c89c"/>
<rect x="749.0" y="2060.0" width="72.0" height="269.0" fill="#e2f0e3"/>
<rect x="821.0" y="2060.0" width="45.0" height="269.0" fill="#74b9e7"/>
<rect x="866.0" y="2060.0" width="107.3" height="269.0" fill="#c4e6f8"/>
<defs>
<clipPath id="c12_0"><rect x="551.7" y="2050.0" width="197.3" height="280.0"/></clipPath>
<clipPath id="c12_1"><rect x="749.0" y="2050.0" width="72.0" height="280.0"/></clipPath>
<clipPath id="c12_2"><rect x="821.0" y="2050.0" width="45.0" height="280.0"/></clipPath>
<clipPath id="c12_3"><rect x="866.0" y="2050.0" width="107.3" height="280.0"/></clipPath>
<polyline id="l12bio" points="575.0,2195.0 613.7,2326.7 652.3,2219.3 691.0,2176.7 729.7,2171.0 768.4,2166.7 807.0,2135.0 845.7,2155.0 884.4,2160.7 923.0,2090.0 961.7,2152.7" fill="none" stroke-width="4" stroke-linejoin="miter"/>
<polyline id="l12nut" points="575.0,2163.3 613.7,2326.7 652.3,2236.7 691.0,2160.0 729.7,2208.3 768.4,2168.3 807.0,2141.7 845.7,2220.0 884.4,2148.3 923.0,2073.3 961.7,2165.0" fill="none" stroke-width="3.8" stroke-linejoin="miter" stroke-dasharray="14 19"/>
<polyline id="l12om" points="575.0,2195.0 613.7,2326.7 652.3,2221.7 691.0,2178.3 729.7,2201.7 768.4,2183.3 807.0,2173.3 845.7,2240.0 884.4,2166.7 923.0,2090.0 961.7,2138.3" fill="none" stroke-width="4" stroke-linejoin="miter" stroke-dasharray="4 12.5"/>
<polyline id="l12sec" points="575.0,2328.5 613.7,2328.5 652.3,2286.7 691.0,2284.0 729.7,2270.0 768.4,2285.0 807.0,2315.0 845.7,2326.7 884.4,2283.3 923.0,2213.3 961.7,2198.3" fill="none" stroke-width="3.8" stroke-linejoin="miter" stroke-dasharray="4 10 14 10"/>
<polyline id="l12sed" points="575.0,2328.5 613.7,2328.5 652.3,2328.5 691.0,2328.5 729.7,2328.5 768.4,2328.5 807.0,2328.5 845.7,2328.5 884.4,2328.5 923.0,2328.5 961.7,2328.5" fill="none" stroke-width="3.6" stroke-linejoin="miter" stroke-dasharray="62 5"/>
</defs>
<g clip-path="url(#c12_0)" stroke-opacity="0.93">
<use href="#l12bio" stroke="#96783e"/>
<use href="#l12nut" stroke="#5fc86e"/>
<use href="#l12om" stroke="#0e9658"/>
<use href="#l12sec" stroke="#9cb45e"/>
<use href="#l12sed" stroke="#698c41"/>
</g>
<g clip-path="url(#c12_1)" stroke-opacity="0.93">
<use href="#l12bio" stroke="#e37962"/>
<use href="#l12nut" stroke="#b4dca5"/>
<use href="#l12om" stroke="#62a686"/>
<use href="#l12sec" stroke="#eecd96"/>
<use href="#l12sed" stroke="#b99669"/>
</g>
<g clip-path="url(#c12_2)" stroke-opacity="0.93">
<use href="#l12bio" stroke="#a56976"/>
<use href="#l12nut" stroke="#5ab9b4"/>
<use href="#l12om" stroke="#148ca0"/>
<use href="#l12sec" stroke="#969f96"/>
<use href="#l12sed" stroke="#787870"/>
</g>
<g clip-path="url(#c12_3)" stroke-opacity="0.93">
<use href="#l12bio" stroke="#da7a66"/>
<use href="#l12nut" stroke="#96d2be"/>
<use href="#l12om" stroke="#46a096"/>
<use href="#l12sec" stroke="#e1c8a5"/>
<use href="#l12sed" stroke="#af9673"/>
</g>
<rect x="551.7" y="2060.0" width="197.3" height="269.0" fill="none" stroke="#283c3c" stroke-opacity="0.5" stroke-width="1"/>
<rect x="749.0" y="2060.0" width="72.0" height="269.0" fill="none" stroke="#283c3c" stroke-opacity="0.5" stroke-width="1"/>
<rect x="821.0" y="2060.0" width="45.0" height="269.0" fill="none" stroke="#283c3c" stroke-opacity="0.5" stroke-width="1"/>
<rect x="866.0" y="2060.0" width="107.3" height="269.0" fill="none" stroke="#283c3c" stroke-opacity="0.5" stroke-width="1"/>
<line x1="974.3" y1="2053.3" x2="974.3" y2="2330.0" stroke="#111" stroke-width="1.4"/>
<line x1="551.2" y1="2329.0" x2="985.0" y2="2329.0" stroke="#111" stroke-width="2.2"/>
<line x1="575.0" y1="2329.0" x2="575.0" y2="2334.0" stroke="#111" stroke-width="1.6"/>
<line x1="613.7" y1="2329.0" x2="613.7" y2="2334.0" stroke="#111" stroke-width="1.6"/>
<line x1="652.3" y1="2329.0" x2="652.3" y2="2334.0" stroke="#111" stroke-width="1.6"/>
<line x1="691.0" y1="2329.0" x2="691.0" y2="2334.0" stroke="#111" stroke-width="1.6"/>
<line x1="729.7" y1="2329.0" x2="729.7" y2="2334.0" stroke="#111" stroke-width="1.6"/>
<line x1="768.4" y1="2329.0" x2="768.4" y2="2334.0" stroke="#111" stroke-width="1.6"/>
<line x1="807.0" y1="2329.0" x2="807.0" y2="2334.0" stroke="#111" stroke-width="1.6"/>
<line x1="845.7" y1="2329.0" x2="845.7" y2="2334.0" stroke="#111" stroke-width="1.6"/>
<line x1="884.4" y1="2329.0" x2="884.4" y2="2334.0" stroke="#111" stroke-width="1.6"/>
<line x1="923.0" y1="2329.0" x2="923.0" y2="2334.0" stroke="#111" stroke-width="1.6"/>
<line x1="961.7" y1="2329.0" x2="961.7" y2="2334.0" stroke="#111" stroke-width="1.6"/>
<text x="568.2" y="2354.3" font-size="24.5" font-family='"Liberation Serif", serif' fill="#1a1a1a" font-weight="bold" text-anchor="middle" stroke="#1a1a1a" stroke-width="0.35">P1</text>
<text x="607.2" y="2354.3" font-size="24.5" font-family='"Liberation Serif", serif' fill="#1a1a1a" font-weight="bold" text-anchor="middle" stroke="#1a1a1a" stroke-width="0.35">P2</text>
<text x="648.7" y="2354.3" font-size="24.5" font-family='"Liberation Serif", serif' fill="#1a1a1a" font-weight="bold" text-anchor="middle" stroke="#1a1a1a" stroke-width="0.35">P3</text>
<text x="687.2" y="2354.3" font-size="24.5" font-family='"Liberation Serif", serif' fill="#1a1a1a" font-weight="bold" text-anchor="middle" stroke="#1a1a1a" stroke-width="0.35">P4</text>
<text x="727.2" y="2354.3" font-size="24.5" font-family='"Liberation Serif", serif' fill="#1a1a1a" font-weight="bold" text-anchor="middle" stroke="#1a1a1a" stroke-width="0.35">P5</text>
<text x="766.2" y="2354.3" font-size="24.5" font-family='"Liberation Serif", serif' fill="#1a1a1a" font-weight="bold" text-anchor="middle" stroke="#1a1a1a" stroke-width="0.35">P6</text>
<text x="802.8" y="2354.3" font-size="24.5" font-family='"Liberation Serif", serif' fill="#1a1a1a" font-weight="bold" text-anchor="middle" stroke="#1a1a1a" stroke-width="0.35">P7</text>
<text x="842.0" y="2354.3" font-size="24.5" font-family='"Liberation Serif", serif' fill="#1a1a1a" font-weight="bold" text-anchor="middle" stroke="#1a1a1a" stroke-width="0.35">P8</text>
<text x="880.5" y="2354.3" font-size="24.5" font-family='"Liberation Serif", serif' fill="#1a1a1a" font-weight="bold" text-anchor="middle" stroke="#1a1a1a" stroke-width="0.35">P9</text>
<text x="921.3" y="2354.3" font-size="24.5" font-family='"Liberation Serif", serif' fill="#1a1a1a" font-weight="bold" text-anchor="middle" stroke="#1a1a1a" stroke-width="0.35">P10</text>
<text x="964.5" y="2354.3" font-size="24.5" font-family='"Liberation Serif", serif' fill="#1a1a1a" font-weight="bold" text-anchor="middle" stroke="#1a1a1a" stroke-width="0.35">P11</text>
<text x="24.9" y="605.0" font-size="32.6" font-family='"Liberation Serif", serif' fill="#1a1a1a" font-weight="bold" textLength="358.3" lengthAdjust="spacingAndGlyphs" stroke="#1a1a1a" stroke-width="0.35" transform="rotate(-90 24.9 605.0)">Function intensity log(10)</text>
<text x="46.9" y="1383.4" font-size="32.3" font-family='"Liberation Serif", serif' fill="#1a1a1a" font-weight="bold" textLength="357.8" lengthAdjust="spacingAndGlyphs" stroke="#1a1a1a" stroke-width="0.35" transform="rotate(-90 46.9 1383.4)">Function intensity log(10)</text>
<text x="46.9" y="2170.8" font-size="32.3" font-family='"Liberation Serif", serif' fill="#1a1a1a" font-weight="bold" textLength="357.3" lengthAdjust="spacingAndGlyphs" stroke="#1a1a1a" stroke-width="0.35" transform="rotate(-90 46.9 2170.8)">Function intensity log(10)</text>
<text x="443.6" y="2388.0" font-size="33" font-family='"Liberation Serif", serif' fill="#1a1a1a" font-weight="bold" textLength="248.5" lengthAdjust="spacingAndGlyphs" stroke="#1a1a1a" stroke-width="0.35">Sampling stations</text>
<text x="998.2" y="272.5" font-size="32.5" font-family='"Liberation Serif", serif' fill="#1a1a1a" font-weight="bold" textLength="280.0" lengthAdjust="spacingAndGlyphs" stroke="#1a1a1a" stroke-width="0.35">Ecological functions</text>
<line x1="996.4" y1="312.8" x2="1040.3" y2="312.8" stroke="#d3242b" stroke-width="6.8"/>
<text x="1061.7" y="325.9" font-size="32.3" font-family='"Liberation Serif", serif' fill="#1a1a1a" textLength="165.5" lengthAdjust="spacingAndGlyphs">Bioturbation</text>
<line x1="997" y1="367.8" x2="1040.3" y2="367.8" stroke="#0f8a4c" stroke-width="6.8" stroke-dasharray="6.6 22.3"/>
<text x="1058.9" y="380.7" font-size="32.3" font-family='"Liberation Serif", serif' fill="#1a1a1a" textLength="249.4" lengthAdjust="spacingAndGlyphs">O.M fragmentation</text>
<line x1="996.4" y1="423.8" x2="1026" y2="423.8" stroke="#8fd05a" stroke-width="6.8"/>
<text x="1059.5" y="436.9" font-size="32.3" font-family='"Liberation Serif", serif' fill="#1a1a1a" textLength="211.0" lengthAdjust="spacingAndGlyphs">Nutrient cycling</text>
<line x1="997" y1="479.4" x2="1040.3" y2="479.4" stroke="#f3a75a" stroke-width="6.8" stroke-dasharray="6.6 22.3 13.8 100"/>
<text x="1061.7" y="492.5" font-size="32.3" font-family='"Liberation Serif", serif' fill="#1a1a1a" textLength="285.5" lengthAdjust="spacingAndGlyphs">Secondary Production</text>
<line x1="996.4" y1="534.7" x2="1040.3" y2="534.7" stroke="#a8692e" stroke-width="6.8"/>
<text x="1060.0" y="545.2" font-size="32.3" font-family='"Liberation Serif", serif' fill="#1a1a1a" textLength="287.0" lengthAdjust="spacingAndGlyphs">Sediment stabilization</text>
</svg>
</body></html>
